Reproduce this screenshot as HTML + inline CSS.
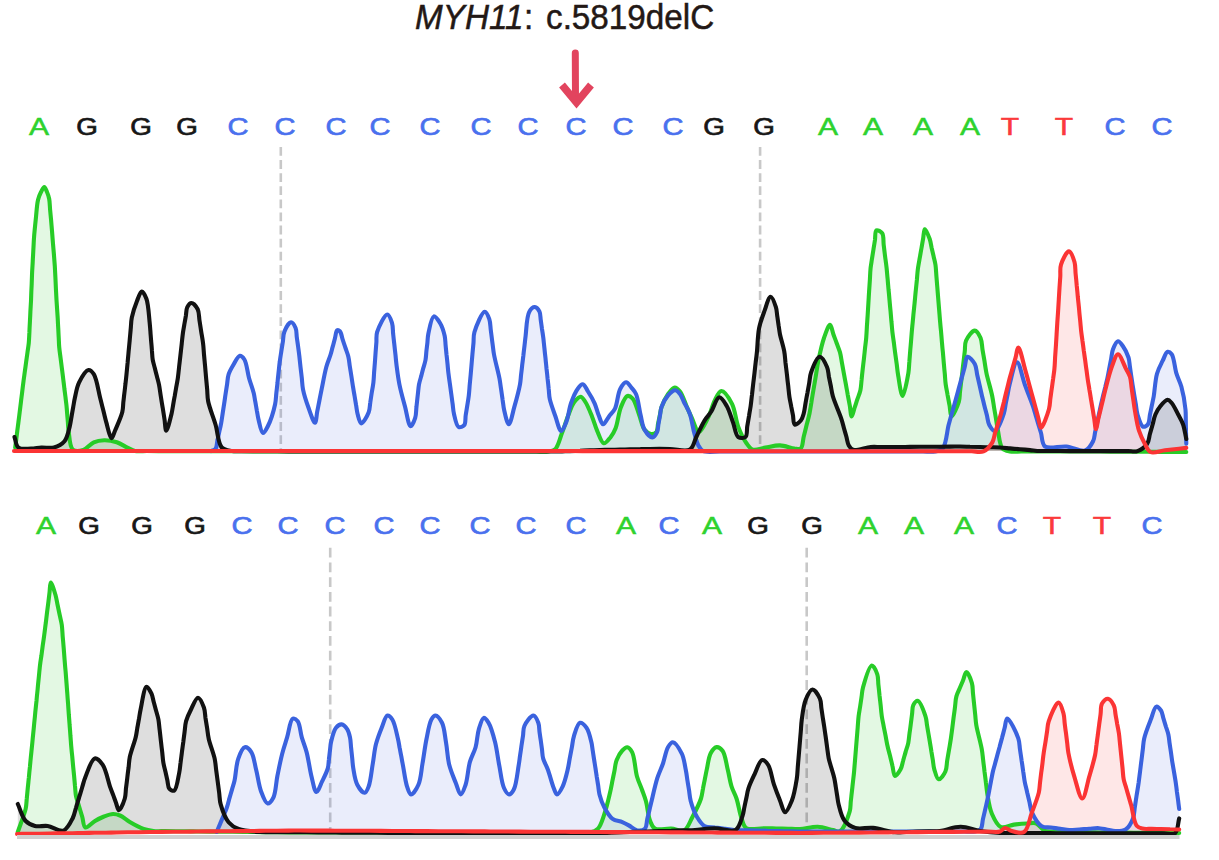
<!DOCTYPE html>
<html><head><meta charset="utf-8">
<style>
html,body{margin:0;padding:0;background:#fff;}
body{width:1219px;height:860px;position:relative;overflow:hidden;font-family:"Liberation Sans",sans-serif;}
svg{position:absolute;left:0;top:0;}
.t{position:absolute;top:-3px;font-size:35px;line-height:40px;color:#231815;white-space:nowrap;transform-origin:0 0;transform:scaleX(0.95);-webkit-text-stroke:0.5px #231815;}
.t i{font-style:italic;}
.b{position:absolute;width:40px;text-align:center;font-size:23.5px;font-weight:normal;line-height:30px;transform:scaleX(1.28);-webkit-text-stroke:0.5px currentColor;}
.b.G{transform:scaleX(1.18);-webkit-text-stroke:0.7px currentColor;}
.b.C{transform:scaleX(1.24);-webkit-text-stroke:0.6px currentColor;}
</style></head><body>
<svg width="1219" height="860" viewBox="0 0 1219 860">
<path d="M575.3,53 L575.5,100" stroke="#e2445e" stroke-width="7" stroke-linecap="round" fill="none"/>
<path d="M562,85 L576.5,102.5 L591,85" stroke="#e2445e" stroke-width="7.5" stroke-linecap="butt" stroke-linejoin="miter" stroke-miterlimit="10" fill="none"/>
<line x1="280.8" y1="147" x2="280.8" y2="451" stroke="#c8c8c8" stroke-width="2.6" stroke-dasharray="8.8 4.3"/>
<line x1="760.1" y1="147" x2="760.1" y2="451" stroke="#c8c8c8" stroke-width="2.6" stroke-dasharray="8.8 4.3"/>
<line x1="330.2" y1="547.8" x2="330.2" y2="834" stroke="#c8c8c8" stroke-width="2.6" stroke-dasharray="9.8 4.9"/>
<line x1="806.7" y1="547.8" x2="806.7" y2="834" stroke="#c8c8c8" stroke-width="2.6" stroke-dasharray="9.8 4.9"/>
<path d="M15.2,447.5 C15.6,444.7 15.9,441.9 16.3,439.1 C16.6,436.3 17.0,433.6 17.3,430.8 C17.7,428.0 18.0,425.3 18.4,422.4 C18.8,419.1 19.3,415.4 19.7,411.9 C20.1,408.4 20.6,404.9 21.0,401.4 C21.4,398.0 21.9,394.5 22.3,391.0 C22.7,387.5 23.2,383.9 23.6,380.5 C24.0,377.3 24.5,374.2 24.9,371.1 C25.3,367.9 25.8,364.8 26.2,361.6 C26.6,358.5 27.1,355.4 27.5,352.2 C27.9,349.1 28.5,346.0 28.8,342.8 C29.1,339.4 29.2,335.8 29.4,332.4 C29.5,328.9 29.7,325.4 29.9,321.9 C30.1,318.4 30.3,314.9 30.4,311.4 C30.6,308.0 30.8,304.3 31.0,301.0 C31.1,298.0 31.2,295.2 31.3,292.3 C31.4,289.4 31.6,286.6 31.7,283.7 C31.8,280.8 31.9,277.9 32.0,275.0 C32.1,272.0 32.3,268.8 32.5,265.7 C32.7,262.6 32.8,259.5 33.0,256.4 C33.2,253.3 33.3,250.2 33.5,247.1 C33.7,244.0 33.7,241.5 34.0,237.8 C34.4,232.2 35.3,223.6 36.0,217.0 C36.6,211.0 36.9,204.6 38.0,200.0 C38.8,196.8 39.8,194.3 41.0,192.0 C42.0,190.1 43.3,187.0 44.3,187.0 C45.3,187.0 46.2,190.2 47.0,192.0 C47.9,194.1 48.7,196.4 49.2,199.0 C49.8,202.2 49.8,206.1 50.1,209.7 C50.4,213.2 50.8,216.8 51.1,220.3 C51.4,223.9 51.7,227.4 52.0,231.0 C52.3,234.8 52.6,238.8 52.9,242.7 C53.2,246.6 53.6,250.4 53.9,254.3 C54.2,258.2 54.5,262.1 54.8,266.0 C55.0,269.8 55.2,273.6 55.4,277.3 C55.6,281.1 55.7,284.9 55.9,288.7 C56.1,292.4 56.3,295.8 56.5,300.0 C56.8,305.3 57.4,312.9 57.7,318.0 C57.9,321.7 58.0,324.4 58.2,327.7 C58.4,330.9 58.5,334.1 58.7,337.3 C58.9,340.6 58.9,343.7 59.2,347.0 C59.5,350.6 60.1,354.4 60.6,358.2 C61.1,361.9 61.5,365.6 62.0,369.3 C62.5,373.1 63.0,377.0 63.4,380.5 C63.8,383.5 64.1,386.1 64.4,388.9 C64.8,391.7 65.1,394.5 65.5,397.3 C65.8,400.1 66.2,402.9 66.5,405.7 C66.8,408.5 67.0,411.3 67.2,414.1 C67.4,416.9 67.7,419.6 67.9,422.4 C68.1,425.2 68.1,427.5 68.6,430.8 C69.4,435.8 69.5,446.8 72.8,449.6 C75.3,451.6 80.0,451.0 83.3,450.0 C87.0,448.9 90.1,443.9 93.8,442.3 C97.1,440.8 100.6,440.3 104.2,440.2 C108.2,440.1 112.9,441.0 116.8,442.3 C120.6,443.5 124.1,446.0 127.3,447.5 C130.1,448.8 132.1,450.4 135.0,451.0 C138.4,451.8 142.9,451.0 146.8,451.0 C150.7,451.0 154.6,451.1 158.6,451.1 C162.5,451.1 166.4,451.1 170.4,451.1 C174.3,451.1 178.2,451.1 182.1,451.1 C186.1,451.2 190.0,451.2 193.9,451.2 C197.9,451.2 201.8,451.2 205.7,451.2 C209.6,451.2 213.6,451.2 217.5,451.2 C221.4,451.3 225.4,451.3 229.3,451.3 C233.2,451.3 237.1,451.3 241.1,451.3 C245.0,451.3 248.9,451.3 252.9,451.4 C256.8,451.4 260.7,451.4 264.6,451.4 C268.6,451.4 272.5,451.4 276.4,451.4 C280.4,451.4 284.3,451.5 288.2,451.5 C292.1,451.5 296.1,451.5 300.0,451.5 C303.9,451.5 307.9,451.5 311.8,451.5 C315.7,451.5 319.7,451.5 323.6,451.5 C327.6,451.5 331.5,451.5 335.4,451.5 C339.4,451.5 343.3,451.5 347.2,451.5 C351.2,451.5 355.1,451.5 359.0,451.5 C363.0,451.5 366.9,451.5 370.9,451.5 C374.8,451.5 378.7,451.5 382.7,451.5 C386.6,451.5 390.5,451.5 394.5,451.5 C398.4,451.5 402.3,451.5 406.3,451.5 C410.2,451.5 414.2,451.5 418.1,451.5 C422.0,451.5 426.0,451.5 429.9,451.5 C433.8,451.5 437.8,451.5 441.7,451.5 C445.7,451.5 449.6,451.5 453.5,451.5 C457.5,451.5 461.4,451.5 465.3,451.5 C469.3,451.5 473.2,451.5 477.1,451.5 C481.1,451.5 485.0,451.5 489.0,451.5 C492.9,451.5 496.8,451.5 500.8,451.5 C504.7,451.5 508.6,451.5 512.6,451.5 C516.5,451.5 520.4,451.5 524.4,451.5 C528.3,451.5 532.3,451.5 536.2,451.5 C540.1,451.5 544.6,452.0 548.0,451.5 C550.7,451.1 553.2,451.1 555.2,449.2 C558.2,446.4 559.7,439.0 561.8,433.5 C564.1,427.6 566.1,420.6 568.4,415.0 C570.3,410.2 571.8,405.2 574.3,402.0 C576.2,399.6 578.9,396.5 580.8,396.7 C582.5,396.9 583.9,399.7 585.4,402.0 C587.7,405.5 590.0,411.5 592.0,416.4 C593.9,421.2 595.2,426.3 597.2,430.9 C599.1,435.3 601.3,442.9 603.8,443.3 C605.8,443.7 608.5,439.8 610.4,437.4 C612.5,434.8 614.1,432.0 615.6,428.2 C617.8,422.7 618.5,413.0 620.9,407.2 C622.7,402.7 625.0,396.7 627.4,396.0 C629.0,395.5 631.1,397.0 632.7,398.7 C635.4,401.7 637.2,409.7 639.2,415.0 C641.1,420.0 642.0,426.4 644.5,429.6 C646.3,431.9 648.9,433.7 651.0,434.0 C652.8,434.2 655.1,433.5 656.3,432.2 C657.8,430.5 657.5,426.6 658.0,423.9 C658.6,421.1 659.2,418.3 659.8,415.5 C660.3,412.8 660.5,410.2 661.5,407.2 C662.9,403.2 665.6,397.5 668.1,394.0 C670.1,391.3 672.6,387.7 674.7,387.6 C676.5,387.5 678.4,389.5 680.0,391.5 C682.5,394.6 684.5,401.4 686.5,406.0 C688.3,410.1 689.8,413.6 691.7,417.7 C693.8,422.2 696.4,431.4 698.3,432.0 C699.1,432.3 699.7,431.6 700.5,430.8 C702.6,428.7 706.4,421.2 708.8,416.1 C711.2,410.9 712.6,404.5 715.0,400.0 C716.9,396.4 718.9,391.1 721.4,391.0 C724.4,390.9 729.2,398.4 731.9,403.6 C735.2,409.8 735.6,419.7 738.2,426.6 C740.5,432.7 743.6,439.2 746.5,443.3 C748.5,446.1 750.1,448.7 752.8,449.6 C756.1,450.7 761.0,448.2 765.4,447.5 C770.1,446.8 775.1,445.2 780.0,445.4 C784.9,445.6 790.8,448.2 794.7,448.6 C797.2,448.8 799.3,449.6 800.8,448.4 C802.9,446.7 802.7,440.6 803.7,436.8 C804.7,432.9 805.6,429.0 806.6,425.1 C807.6,421.3 808.7,417.3 809.5,413.5 C810.2,409.9 810.7,406.5 811.3,403.0 C811.8,399.5 812.4,396.0 813.0,392.5 C813.6,389.0 814.2,385.5 814.8,382.0 C815.4,378.5 816.0,375.0 816.5,371.5 C817.1,368.0 817.4,365.2 818.3,361.0 C819.6,354.8 821.7,344.5 824.0,338.0 C825.8,332.9 828.4,324.7 830.0,324.8 C831.4,324.9 832.2,330.9 833.3,334.0 C834.4,337.1 835.6,340.1 836.7,343.2 C837.8,346.3 839.1,349.2 840.0,352.4 C840.9,355.8 841.3,359.5 842.0,363.1 C842.6,366.6 843.3,370.2 843.9,373.7 C844.6,377.3 845.2,380.8 845.9,384.4 C846.5,388.0 847.2,391.5 847.8,395.1 C848.5,398.6 849.1,402.2 849.8,405.7 C850.4,409.3 850.8,416.3 851.7,416.4 C852.5,416.5 853.6,410.6 854.6,407.7 C855.6,404.8 856.5,401.8 857.5,398.9 C858.5,396.0 859.7,393.3 860.4,390.2 C861.1,386.9 861.2,383.2 861.6,379.8 C861.9,376.3 862.3,372.8 862.7,369.3 C863.1,365.8 863.5,362.4 863.9,358.9 C864.3,355.4 864.7,351.9 865.0,348.4 C865.4,345.0 865.9,341.6 866.2,338.0 C866.5,334.2 866.7,330.2 866.9,326.3 C867.2,322.4 867.4,318.6 867.7,314.7 C867.9,310.8 868.2,306.9 868.4,303.0 C868.6,299.1 868.9,295.2 869.1,291.3 C869.4,287.4 869.6,283.6 869.9,279.7 C870.1,275.8 870.2,271.7 870.6,268.0 C871.0,264.7 871.6,261.7 872.0,258.6 C872.5,255.4 873.0,252.3 873.5,249.2 C874.0,246.0 874.5,242.9 875.0,239.7 C875.4,236.6 874.9,231.1 876.4,230.3 C877.6,229.7 880.9,231.5 882.2,233.3 C883.9,235.7 883.2,241.0 883.7,244.9 C884.2,248.7 884.6,252.6 885.1,256.4 C885.6,260.3 886.2,264.2 886.6,268.0 C887.0,271.6 887.2,275.1 887.6,278.7 C887.9,282.2 888.2,285.8 888.5,289.3 C888.9,292.9 889.2,296.4 889.5,300.0 C889.8,303.6 890.1,307.1 890.5,310.7 C890.8,314.2 891.1,317.8 891.4,321.3 C891.8,324.9 892.0,328.4 892.4,332.0 C892.8,335.6 893.4,339.3 893.9,342.9 C894.3,346.6 894.8,350.2 895.3,353.9 C895.8,357.5 896.3,361.1 896.8,364.8 C897.2,368.4 897.5,371.5 898.2,375.7 C899.2,381.4 901.0,396.0 902.6,396.0 C904.3,396.0 907.3,379.2 908.4,372.8 C909.1,368.3 909.0,365.0 909.4,361.2 C909.7,357.3 910.0,353.4 910.3,349.6 C910.7,345.7 911.0,341.8 911.3,337.9 C911.6,334.1 911.9,330.2 912.3,326.3 C912.7,322.4 913.1,318.5 913.4,314.6 C913.8,310.8 914.2,306.9 914.6,303.0 C915.0,299.1 915.3,295.2 915.7,291.3 C916.1,287.4 916.5,283.5 916.9,279.7 C917.2,275.8 917.5,271.7 918.0,268.0 C918.5,264.6 919.1,261.5 919.7,258.2 C920.3,255.0 920.8,251.8 921.4,248.5 C922.0,245.2 922.5,242.0 923.1,238.8 C923.7,235.5 923.8,229.1 924.8,229.0 C925.9,228.8 928.5,235.7 929.7,239.0 C930.7,241.9 931.0,244.8 931.6,247.7 C932.3,250.6 932.9,253.4 933.6,256.3 C934.2,259.2 935.0,261.9 935.5,265.0 C936.0,268.5 936.1,272.4 936.4,276.1 C936.7,279.8 937.0,283.5 937.3,287.2 C937.6,290.9 937.9,294.6 938.2,298.3 C938.5,302.0 938.8,305.7 939.1,309.4 C939.4,313.1 939.7,316.8 940.0,320.5 C940.3,324.1 940.6,327.6 941.0,331.1 C941.3,334.7 941.6,338.2 941.9,341.8 C942.2,345.4 942.5,348.9 942.9,352.4 C943.2,356.0 943.5,359.6 943.8,363.1 C944.1,366.6 944.4,370.2 944.8,373.8 C945.1,377.3 945.2,380.9 945.7,384.4 C946.2,388.0 947.0,391.5 947.6,395.1 C948.3,398.6 948.9,402.2 949.6,405.7 C950.2,409.3 950.3,416.2 951.5,416.4 C953.0,416.6 957.4,406.4 958.8,401.9 C959.9,398.3 959.6,395.1 960.0,391.7 C960.4,388.3 960.8,384.9 961.2,381.5 C961.6,378.1 962.0,374.7 962.4,371.4 C962.8,368.0 963.2,364.6 963.6,361.2 C964.0,357.8 964.4,354.4 964.8,351.0 C965.2,347.6 964.6,344.0 966.0,340.8 C967.6,337.1 972.2,330.5 974.8,330.6 C977.0,330.7 979.3,335.1 980.6,338.0 C982.0,341.3 981.9,345.7 982.5,349.6 C983.2,353.5 983.8,357.3 984.5,361.2 C985.1,365.1 985.5,368.3 986.4,372.8 C987.7,379.2 990.9,389.6 992.2,396.0 C993.1,400.5 993.5,403.8 994.1,407.7 C994.8,411.6 995.4,415.4 996.1,419.3 C996.7,423.2 997.1,426.7 998.0,431.0 C999.1,436.2 999.6,445.1 1002.4,448.4 C1004.3,450.6 1007.2,450.9 1010.0,451.5 C1013.3,452.2 1017.5,451.5 1021.2,451.5 C1025.0,451.5 1028.8,451.5 1032.5,451.5 C1036.2,451.5 1040.0,451.5 1043.8,451.5 C1047.5,451.5 1051.2,451.5 1055.0,451.5 C1058.8,451.5 1062.5,451.5 1066.2,451.5 C1070.0,451.5 1073.8,451.5 1077.5,451.5 C1081.2,451.5 1085.0,451.5 1088.8,451.5 C1092.5,451.5 1096.3,451.5 1100.0,451.5 C1103.6,451.5 1107.2,451.5 1110.8,451.6 C1114.4,451.6 1118.0,451.6 1121.6,451.6 C1125.2,451.6 1128.8,451.7 1132.4,451.7 C1136.0,451.7 1139.6,451.7 1143.2,451.8 C1146.7,451.8 1150.3,451.8 1153.9,451.8 C1157.5,451.8 1161.1,451.9 1164.7,451.9 C1168.3,451.9 1171.9,451.9 1175.5,451.9 C1179.1,452.0 1182.7,452.0 1186.3,452.0 L1186.3,451.0 L15.2,451.0 Z" fill="rgba(40,200,40,0.13)" stroke="none"/>
<path d="M211.3,451.0 C212.7,450.3 214.6,450.1 215.6,448.8 C217.0,447.0 216.8,443.0 217.5,440.1 C218.1,437.2 218.7,434.4 219.3,431.5 C220.0,428.6 220.7,425.8 221.2,422.8 C221.8,419.7 222.2,416.3 222.7,413.1 C223.2,409.9 223.7,406.7 224.2,403.4 C224.7,400.2 225.1,397.0 225.6,393.8 C226.1,390.5 226.6,387.3 227.1,384.1 C227.6,380.9 227.6,377.5 228.6,374.4 C229.6,371.2 231.5,368.0 233.3,365.0 C235.2,361.8 237.7,356.1 239.8,355.8 C241.3,355.6 243.1,357.5 244.4,359.5 C246.7,363.1 247.4,372.2 249.0,378.0 C250.5,383.3 252.6,388.7 253.7,393.0 C254.5,396.3 254.7,398.8 255.3,401.7 C255.8,404.6 256.3,407.4 256.8,410.3 C257.4,413.2 257.6,415.8 258.4,419.0 C259.4,423.1 261.1,432.7 263.0,433.0 C264.4,433.2 266.2,429.5 267.7,426.5 C270.3,421.4 273.8,410.3 275.1,404.2 C276.0,400.0 275.9,397.1 276.3,393.5 C276.7,389.9 277.1,386.4 277.5,382.8 C277.8,379.2 278.2,375.7 278.6,372.1 C279.0,368.5 279.3,364.9 279.8,361.4 C280.2,358.0 280.8,354.8 281.3,351.5 C281.8,348.2 282.4,344.8 282.9,341.5 C283.4,338.2 283.1,334.7 284.4,331.6 C285.7,328.3 289.0,322.4 291.0,322.3 C292.6,322.2 294.6,325.7 295.6,328.0 C296.7,330.6 296.4,334.2 296.8,337.3 C297.2,340.4 297.7,343.4 298.1,346.5 C298.5,349.6 298.9,352.6 299.3,355.8 C299.7,359.3 300.1,363.2 300.5,367.0 C300.9,370.7 301.4,374.4 301.8,378.1 C302.2,381.9 302.2,385.1 303.0,389.3 C304.1,394.8 306.5,402.2 308.6,408.0 C310.5,413.3 313.6,423.0 315.0,422.8 C316.2,422.7 316.5,415.4 317.2,411.6 C317.9,407.9 318.7,404.2 319.4,400.5 C320.1,396.7 320.7,393.7 321.6,389.3 C322.9,383.1 324.6,373.3 326.3,367.0 C327.6,362.2 329.5,358.2 330.6,354.5 C331.5,351.5 332.0,349.1 332.8,346.4 C333.5,343.7 334.2,341.1 334.9,338.4 C335.7,335.7 335.9,331.0 337.1,330.3 C337.8,329.9 339.1,330.5 339.9,331.3 C341.3,332.7 341.8,336.9 342.7,339.7 C343.6,342.5 344.6,345.2 345.5,348.0 C346.4,350.8 347.6,353.5 348.3,356.4 C349.1,359.5 349.3,363.0 349.8,366.3 C350.3,369.6 350.9,373.0 351.4,376.3 C351.9,379.6 352.4,382.9 352.9,386.2 C353.4,389.3 353.9,392.4 354.5,395.5 C355.0,398.6 355.5,401.6 356.0,404.7 C356.6,407.8 356.8,410.9 357.6,414.0 C358.5,417.2 359.6,423.2 361.3,423.4 C363.2,423.6 367.2,416.0 368.7,412.2 C370.0,408.9 369.7,405.6 370.3,402.3 C370.8,399.0 371.3,395.6 371.8,392.3 C372.4,389.0 373.0,385.7 373.4,382.4 C373.8,379.1 373.9,375.7 374.1,372.4 C374.4,369.0 374.6,365.7 374.9,362.3 C375.1,359.0 375.4,355.6 375.6,352.3 C375.9,348.9 376.1,345.6 376.4,342.2 C376.6,338.9 376.0,335.9 377.1,332.2 C378.7,327.0 384.6,314.5 387.3,314.5 C389.2,314.5 391.0,319.8 392.0,322.9 C393.0,326.2 392.8,330.0 393.1,333.6 C393.5,337.2 393.9,340.7 394.3,344.3 C394.7,347.9 395.1,351.4 395.5,355.0 C395.8,358.6 396.1,361.6 396.6,365.7 C397.3,371.1 398.1,377.9 399.4,384.3 C400.8,391.4 403.1,399.4 405.0,406.6 C406.8,413.4 408.5,426.0 410.6,426.2 C412.0,426.4 414.2,420.9 415.2,417.8 C416.3,414.4 416.0,410.4 416.5,406.6 C416.9,402.9 417.3,399.2 417.7,395.5 C418.2,391.7 418.4,387.7 419.0,384.3 C419.6,381.4 420.4,378.9 421.2,376.2 C421.9,373.5 422.6,370.8 423.3,368.1 C424.1,365.4 425.0,362.8 425.5,360.0 C426.0,357.2 426.1,354.2 426.4,351.3 C426.7,348.4 427.1,345.6 427.4,342.7 C427.7,339.8 427.6,337.4 428.3,334.0 C429.3,329.1 431.3,317.0 433.8,316.4 C435.5,316.0 438.3,320.2 440.0,323.0 C442.1,326.4 443.8,332.0 444.7,336.0 C445.4,339.3 445.3,342.2 445.6,345.2 C445.9,348.3 446.2,351.4 446.5,354.5 C446.9,357.6 447.2,360.7 447.5,363.8 C447.8,366.8 448.0,369.8 448.4,373.0 C448.8,376.3 449.3,379.8 449.8,383.2 C450.3,386.7 450.7,390.1 451.2,393.5 C451.7,396.9 452.1,400.3 452.6,403.8 C453.1,407.2 453.1,410.4 454.0,414.0 C455.0,418.1 456.3,425.8 458.6,427.0 C460.1,427.8 463.0,426.6 464.2,425.2 C465.8,423.3 465.2,418.6 465.7,415.3 C466.2,412.0 466.8,408.7 467.3,405.4 C467.8,402.1 468.4,398.9 468.8,395.5 C469.2,392.0 469.4,388.5 469.7,384.9 C470.0,381.4 470.4,377.9 470.7,374.4 C471.0,370.9 471.3,367.4 471.6,363.9 C471.9,360.3 472.2,356.8 472.5,353.3 C472.8,349.8 473.2,346.3 473.5,342.8 C473.8,339.2 473.3,336.2 474.4,332.2 C476.1,326.4 481.9,311.8 484.7,311.7 C486.5,311.6 488.3,316.3 489.3,319.2 C490.5,322.6 490.3,327.0 490.9,331.0 C491.4,334.9 491.9,338.8 492.4,342.7 C493.0,346.7 493.2,349.9 494.0,354.5 C495.2,361.2 498.3,372.3 499.5,378.7 C500.3,382.9 500.5,385.7 501.1,389.2 C501.6,392.7 502.1,396.3 502.6,399.8 C503.2,403.3 503.3,406.6 504.2,410.3 C505.2,414.7 507.2,424.3 508.8,424.3 C510.6,424.3 512.6,412.9 514.4,406.6 C516.4,399.6 518.9,390.2 520.0,384.3 C520.7,380.4 520.7,377.9 521.1,374.6 C521.5,371.4 521.9,368.2 522.2,365.0 C522.6,361.8 523.0,358.5 523.4,355.3 C523.7,352.1 524.1,348.9 524.5,345.7 C524.9,342.4 525.1,339.9 525.6,336.0 C526.4,329.7 526.6,316.4 529.3,311.7 C530.7,309.1 533.2,306.9 534.9,307.0 C536.5,307.1 538.5,309.7 539.5,311.7 C540.6,314.0 540.3,317.5 540.8,320.4 C541.2,323.3 541.6,326.2 542.0,329.1 C542.5,332.0 542.9,334.8 543.3,337.8 C543.7,341.1 544.0,344.6 544.4,348.0 C544.7,351.4 545.1,354.9 545.5,358.3 C545.8,361.7 546.2,365.1 546.5,368.5 C546.9,371.9 547.3,375.3 547.6,378.7 C548.0,382.1 548.4,385.6 548.7,389.0 C549.1,392.4 549.0,395.4 549.8,399.2 C550.9,404.2 553.4,410.6 555.3,416.0 C557.2,421.2 559.1,430.9 561.2,431.0 C562.9,431.1 564.9,425.4 566.4,421.7 C568.4,416.7 569.0,409.0 571.0,403.3 C572.8,398.1 575.1,392.2 577.6,388.9 C579.2,386.7 581.2,384.1 582.8,384.3 C584.7,384.5 586.2,388.7 588.0,391.5 C590.2,394.9 592.8,399.3 594.6,403.3 C596.3,407.1 597.1,411.4 598.6,415.0 C600.0,418.3 601.3,424.1 603.1,424.3 C604.8,424.5 607.0,419.0 609.0,416.4 C611.0,413.8 613.3,412.0 615.0,408.6 C617.4,403.7 617.7,393.5 620.2,388.9 C621.8,385.9 624.2,382.4 626.1,382.3 C627.9,382.2 629.8,385.7 631.4,387.6 C633.1,389.6 634.7,391.1 636.0,394.0 C638.2,398.8 639.1,408.7 640.6,415.0 C641.9,420.3 642.2,425.7 644.5,429.6 C646.4,432.9 650.2,437.5 652.4,437.4 C654.2,437.3 656.0,434.3 657.0,432.2 C658.1,429.9 658.0,426.6 658.5,423.9 C659.0,421.1 659.5,418.3 660.0,415.5 C660.5,412.8 660.5,410.1 661.5,407.2 C662.8,403.5 665.5,398.3 668.1,395.4 C670.2,393.0 673.2,390.1 675.3,390.2 C677.1,390.2 678.7,392.3 680.0,394.0 C681.6,396.0 682.5,399.1 683.9,402.0 C685.7,405.6 688.2,409.3 689.8,413.8 C691.8,419.4 692.8,427.8 694.4,433.5 C695.7,438.0 696.7,442.3 698.4,445.4 C699.7,447.8 700.6,449.8 703.0,451.0 C706.7,452.8 714.8,451.4 720.0,451.5 C724.3,451.6 728.0,451.5 731.9,451.5 C735.9,451.5 739.9,451.5 743.9,451.5 C747.9,451.5 751.9,451.5 755.8,451.5 C759.8,451.5 763.8,451.5 767.8,451.5 C771.8,451.5 775.7,451.5 779.7,451.5 C783.7,451.5 787.7,451.5 791.7,451.5 C795.6,451.5 799.6,451.5 803.6,451.5 C807.6,451.5 811.6,451.5 815.6,451.5 C819.5,451.5 823.5,451.5 827.5,451.5 C831.5,451.5 835.5,451.5 839.4,451.5 C843.4,451.5 847.4,451.5 851.4,451.5 C855.4,451.5 859.4,451.5 863.3,451.5 C867.3,451.5 871.3,451.5 875.3,451.5 C879.3,451.5 883.2,451.5 887.2,451.5 C891.2,451.5 895.2,451.5 899.2,451.5 C903.1,451.5 907.1,451.5 911.1,451.5 C915.1,451.5 919.1,451.5 923.1,451.5 C927.0,451.5 931.5,452.2 935.0,451.5 C937.9,450.9 940.7,450.8 942.8,448.4 C946.3,444.4 947.0,430.9 948.6,425.0 C949.6,421.4 950.2,419.2 951.0,416.3 C951.8,413.4 952.7,410.6 953.5,407.7 C954.3,404.8 955.1,402.0 955.9,399.0 C956.8,395.7 957.8,392.0 958.8,388.4 C959.8,384.9 960.7,381.4 961.7,377.9 C962.7,374.4 963.6,370.9 964.6,367.4 C965.6,363.8 965.7,357.3 967.5,356.8 C969.2,356.3 973.2,361.1 974.8,364.0 C976.5,367.0 976.4,371.1 977.2,374.7 C978.0,378.2 978.8,381.8 979.6,385.3 C980.4,388.9 981.2,392.5 982.0,396.0 C982.8,399.3 983.6,402.4 984.4,405.7 C985.2,408.9 986.1,412.1 986.9,415.3 C987.7,418.6 987.8,422.3 989.3,425.0 C990.6,427.4 993.1,431.3 995.0,431.0 C997.9,430.6 1002.1,418.6 1003.8,413.5 C1005.0,409.9 1005.1,407.0 1005.7,403.8 C1006.4,400.6 1007.0,397.3 1007.7,394.1 C1008.3,390.9 1008.6,388.3 1009.6,384.4 C1011.2,378.5 1014.5,362.3 1017.0,362.3 C1019.6,362.3 1022.3,377.6 1025.0,385.0 C1027.6,392.3 1031.1,400.8 1033.0,406.4 C1034.2,410.0 1034.8,412.3 1035.7,415.3 C1036.6,418.2 1037.4,421.2 1038.3,424.1 C1039.2,427.1 1040.0,429.7 1041.0,433.0 C1042.2,437.0 1041.7,444.0 1045.0,446.5 C1049.1,449.6 1059.6,445.8 1066.5,446.5 C1073.0,447.2 1080.6,452.1 1085.2,450.5 C1088.9,449.2 1091.5,444.4 1093.2,441.0 C1094.6,438.0 1094.5,434.8 1095.2,431.7 C1095.9,428.6 1096.5,425.5 1097.2,422.4 C1097.9,419.2 1098.5,416.1 1099.2,413.0 C1099.9,409.9 1100.5,406.7 1101.2,403.7 C1101.9,400.8 1102.6,398.1 1103.2,395.3 C1103.9,392.5 1104.6,389.8 1105.3,387.0 C1105.9,384.2 1106.7,381.5 1107.3,378.6 C1108.0,375.5 1108.6,372.1 1109.2,368.8 C1109.8,365.6 1110.5,362.3 1111.1,359.1 C1111.7,355.8 1111.8,352.3 1113.0,349.3 C1114.1,346.4 1116.2,341.4 1118.0,341.2 C1119.5,341.0 1121.3,343.9 1122.8,346.0 C1124.9,348.9 1127.3,353.8 1128.5,357.5 C1129.5,360.6 1129.4,363.6 1129.9,366.7 C1130.3,369.7 1130.8,372.8 1131.2,375.8 C1131.7,378.9 1132.1,381.9 1132.6,385.0 C1133.1,388.2 1133.7,391.6 1134.2,394.8 C1134.8,398.1 1135.3,401.4 1135.9,404.7 C1136.4,407.9 1136.5,411.1 1137.5,414.5 C1138.7,418.4 1140.9,425.9 1143.2,426.7 C1144.6,427.2 1146.9,425.7 1148.0,424.2 C1149.5,422.2 1149.3,418.0 1149.9,415.0 C1150.5,411.9 1151.2,408.8 1151.8,405.7 C1152.4,402.7 1153.0,400.3 1153.7,396.5 C1154.7,390.6 1155.2,380.1 1157.0,373.7 C1158.4,368.6 1160.8,364.6 1162.7,360.7 C1164.3,357.4 1165.7,352.3 1167.6,351.8 C1168.9,351.5 1170.5,352.6 1171.7,354.2 C1174.1,357.4 1174.7,367.9 1176.5,373.7 C1178.0,378.5 1180.0,381.8 1181.4,386.8 C1183.2,393.3 1184.9,403.3 1185.5,409.6 C1185.9,414.0 1185.7,417.2 1185.8,421.0 C1185.9,424.8 1185.9,428.6 1186.0,432.4 C1186.1,436.2 1186.2,440.0 1186.3,443.8 L1186.3,451.0 L211.3,451.0 Z" fill="rgba(60,90,220,0.11)" stroke="none"/>
<path d="M14.5,437.0 C15.8,440.5 15.8,445.5 18.4,447.5 C21.1,449.6 27.0,448.6 31.0,448.6 C34.6,448.6 37.8,447.7 41.4,447.5 C45.4,447.3 50.1,448.6 54.0,447.5 C57.8,446.5 61.9,444.4 64.5,441.3 C67.4,437.8 68.5,431.0 69.7,426.6 C70.6,423.1 70.9,420.1 71.5,416.8 C72.1,413.6 72.6,410.3 73.2,407.1 C73.8,403.8 74.2,400.9 75.0,397.3 C76.0,392.9 76.8,387.1 79.0,382.6 C81.3,378.0 85.6,370.4 88.5,370.0 C90.4,369.8 92.3,371.9 93.8,374.2 C96.7,378.6 98.5,391.5 100.0,397.3 C100.9,400.8 101.4,402.9 102.1,405.7 C102.8,408.5 103.5,411.2 104.2,414.0 C104.9,416.8 105.4,419.2 106.3,422.4 C107.6,426.8 109.9,438.0 111.6,438.1 C112.8,438.2 113.7,433.8 115.0,430.8 C117.0,426.0 121.0,417.3 122.3,412.0 C123.2,408.4 123.0,405.7 123.3,402.6 C123.7,399.4 124.0,396.2 124.4,393.1 C124.8,390.0 125.1,386.8 125.5,383.6 C125.8,380.5 126.2,377.5 126.5,374.2 C126.9,370.6 127.2,366.7 127.6,362.9 C127.9,359.1 128.3,355.4 128.6,351.6 C129.0,347.8 129.3,344.1 129.7,340.3 C130.0,336.5 130.4,332.8 130.7,329.0 C131.1,325.2 131.0,321.8 131.8,317.7 C132.8,312.6 135.1,305.7 137.0,301.0 C138.5,297.3 140.1,291.6 141.8,291.5 C143.3,291.4 145.2,295.5 146.4,298.8 C148.4,304.2 148.9,315.9 149.6,321.9 C150.0,325.7 150.1,328.2 150.4,331.3 C150.6,334.5 150.9,337.6 151.1,340.8 C151.4,343.9 151.7,347.0 151.9,350.2 C152.2,353.3 152.2,356.6 152.7,359.6 C153.2,362.5 154.1,365.2 154.8,368.0 C155.5,370.8 156.2,373.5 156.9,376.3 C157.6,379.1 158.4,381.7 159.0,384.7 C159.7,388.2 160.2,392.4 160.8,396.2 C161.4,400.1 162.0,403.9 162.7,407.8 C163.3,411.6 163.9,415.4 164.5,419.3 C165.1,423.1 165.3,430.7 166.3,430.8 C167.5,430.9 170.3,418.7 171.5,414.0 C172.3,410.6 172.6,408.1 173.1,405.1 C173.6,402.1 174.1,399.2 174.7,396.2 C175.2,393.2 175.7,390.3 176.2,387.3 C176.8,384.3 177.3,381.6 177.8,378.4 C178.3,374.8 178.7,370.7 179.1,366.9 C179.5,363.1 180.0,359.2 180.4,355.4 C180.8,351.6 181.3,347.7 181.7,343.9 C182.1,340.1 182.5,335.9 183.0,332.4 C183.4,329.4 184.0,326.8 184.4,324.0 C184.9,321.2 185.4,318.4 185.9,315.6 C186.3,312.8 186.2,309.4 187.3,307.2 C188.2,305.4 189.9,303.0 191.4,303.0 C193.3,303.0 196.3,306.6 197.7,309.3 C199.2,312.3 198.9,316.7 199.5,320.5 C200.1,324.2 200.6,327.9 201.2,331.6 C201.8,335.4 202.5,339.0 203.0,342.8 C203.5,346.7 203.7,350.6 204.0,354.5 C204.4,358.5 204.7,362.4 205.1,366.3 C205.4,370.2 205.8,374.1 206.1,378.0 C206.5,381.9 206.8,385.8 207.2,389.8 C207.5,393.7 207.3,397.0 208.2,401.5 C209.5,407.9 213.2,416.8 215.5,424.5 C217.8,432.1 217.9,443.4 221.8,447.5 C224.4,450.3 228.5,450.4 232.0,451.0 C235.6,451.6 239.6,451.1 243.3,451.1 C247.1,451.1 250.9,451.1 254.7,451.2 C258.4,451.2 262.2,451.2 266.0,451.2 C269.8,451.3 273.6,451.3 277.3,451.3 C281.1,451.4 284.9,451.4 288.7,451.4 C292.4,451.4 296.2,451.5 300.0,451.5 C303.7,451.5 307.4,451.5 311.1,451.5 C314.8,451.5 318.5,451.5 322.2,451.5 C325.9,451.5 329.6,451.5 333.3,451.5 C337.0,451.5 340.7,451.5 344.4,451.5 C348.1,451.5 351.9,451.5 355.6,451.5 C359.3,451.5 363.0,451.5 366.7,451.5 C370.4,451.5 374.1,451.5 377.8,451.5 C381.5,451.5 385.2,451.5 388.9,451.5 C392.6,451.5 396.3,451.5 400.0,451.5 C403.8,451.5 407.6,451.5 411.4,451.5 C415.2,451.5 419.0,451.5 422.9,451.5 C426.7,451.5 430.5,451.5 434.3,451.5 C438.1,451.5 441.9,451.5 445.7,451.5 C449.5,451.5 453.3,451.5 457.1,451.5 C461.0,451.5 464.8,451.5 468.6,451.5 C472.4,451.5 476.2,451.5 480.0,451.5 C483.8,451.5 487.6,451.5 491.4,451.5 C495.2,451.5 499.0,451.5 502.9,451.5 C506.7,451.5 510.5,451.5 514.3,451.5 C518.1,451.5 521.9,451.5 525.7,451.5 C529.5,451.5 533.3,451.5 537.1,451.5 C541.0,451.5 544.8,451.5 548.6,451.5 C552.4,451.5 556.3,451.6 560.0,451.5 C563.4,451.4 566.7,451.2 570.0,451.1 C573.3,451.0 576.7,450.9 580.0,450.8 C583.3,450.6 586.7,450.5 590.0,450.4 C593.3,450.2 596.7,450.1 600.0,450.0 C603.3,449.9 606.7,449.9 610.0,449.8 C613.3,449.7 616.7,449.7 620.0,449.6 C623.3,449.5 626.7,449.5 630.0,449.4 C633.3,449.3 636.7,449.3 640.0,449.2 C643.3,449.1 646.1,449.0 650.0,449.0 C655.5,448.9 663.3,448.9 670.0,449.0 C676.7,449.1 685.6,452.1 690.0,449.5 C693.7,447.3 694.1,441.5 696.3,437.0 C698.9,431.8 701.9,424.8 704.7,420.3 C706.8,416.9 708.9,415.2 711.0,412.0 C713.7,407.9 716.4,397.6 719.3,397.3 C721.6,397.1 724.5,402.2 726.6,405.7 C729.3,410.1 731.0,417.0 733.0,422.4 C734.9,427.4 735.4,435.0 738.2,437.0 C740.1,438.4 744.0,438.3 745.5,437.0 C747.4,435.4 746.7,430.0 747.2,426.6 C747.8,423.1 748.4,419.6 749.0,416.1 C749.5,412.7 750.2,409.2 750.7,405.7 C751.2,402.1 751.5,398.4 752.0,394.8 C752.4,391.2 752.8,387.5 753.2,383.9 C753.6,380.3 754.1,376.6 754.5,373.0 C754.9,369.4 755.3,365.7 755.7,362.1 C756.2,358.5 756.6,355.5 757.0,351.2 C757.6,345.0 757.7,335.2 759.1,328.2 C760.3,322.1 762.3,316.8 764.3,311.4 C766.2,306.3 768.5,296.9 770.6,296.8 C772.4,296.7 774.8,303.8 775.9,307.2 C776.9,310.3 776.8,313.3 777.3,316.3 C777.7,319.3 778.2,322.4 778.6,325.4 C779.1,328.4 779.3,331.0 780.0,334.5 C781.0,339.2 783.3,346.1 784.2,351.2 C785.0,355.4 785.1,358.9 785.5,362.7 C786.0,366.6 786.4,370.4 786.9,374.2 C787.3,378.1 787.7,381.9 788.2,385.8 C788.6,389.6 788.9,393.7 789.5,397.3 C790.0,400.5 790.7,403.3 791.2,406.4 C791.8,409.4 792.4,412.4 793.0,415.4 C793.5,418.5 793.2,423.9 794.7,424.5 C796.1,425.1 799.5,422.2 801.0,420.3 C802.5,418.5 803.0,416.0 803.7,413.5 C804.6,410.5 804.9,406.7 805.5,403.3 C806.1,399.9 806.7,396.5 807.4,393.1 C808.0,389.8 808.6,386.4 809.2,383.0 C809.8,379.6 809.7,376.5 811.0,372.8 C812.7,367.9 816.8,357.0 819.7,356.8 C822.1,356.7 825.5,363.5 827.0,367.0 C828.4,370.1 828.3,373.4 828.9,376.7 C829.6,379.9 830.2,383.1 830.9,386.3 C831.5,389.6 831.7,392.1 832.8,396.0 C834.5,402.1 839.6,413.4 841.5,419.3 C842.7,422.9 843.1,425.1 843.9,428.0 C844.7,430.9 845.6,433.9 846.4,436.8 C847.2,439.7 847.5,443.2 848.8,445.5 C849.9,447.4 850.9,449.1 853.0,449.8 C856.7,451.0 865.6,447.4 870.6,447.0 C874.3,446.7 877.1,447.0 880.4,447.0 C883.7,447.0 886.9,447.0 890.2,447.0 C893.5,447.0 896.7,447.0 900.0,447.0 C903.3,447.0 906.7,446.9 910.0,446.9 C913.3,446.9 916.7,446.9 920.0,446.8 C923.3,446.8 926.7,446.8 930.0,446.8 C933.3,446.7 936.7,446.7 940.0,446.7 C943.3,446.6 946.7,446.6 950.0,446.6 C953.3,446.6 956.7,446.5 960.0,446.5 C963.3,446.5 966.7,446.7 970.0,446.8 C973.3,446.8 976.7,446.9 980.0,447.0 C983.3,447.1 986.7,447.2 990.0,447.2 C993.3,447.3 996.7,447.3 1000.0,447.5 C1003.3,447.7 1006.7,448.1 1010.0,448.4 C1013.3,448.7 1016.7,449.0 1020.0,449.2 C1023.3,449.5 1026.7,449.8 1030.0,450.1 C1033.3,450.4 1036.7,450.9 1040.0,451.0 C1043.3,451.1 1046.7,451.0 1050.0,451.0 C1053.3,451.0 1056.7,451.0 1060.0,451.0 C1063.3,451.0 1066.7,451.0 1070.0,451.1 C1073.3,451.1 1076.7,451.1 1080.0,451.1 C1083.3,451.1 1086.7,451.1 1090.0,451.1 C1093.3,451.1 1096.7,451.1 1100.0,451.1 C1103.2,451.1 1106.2,451.1 1109.4,451.1 C1112.5,451.1 1115.6,451.1 1118.8,451.1 C1121.9,451.1 1125.0,451.1 1128.1,451.1 C1131.2,451.1 1134.5,452.1 1137.5,451.1 C1140.9,450.0 1145.1,446.8 1147.2,443.8 C1149.1,441.0 1149.0,437.3 1149.9,434.0 C1150.8,430.8 1151.8,427.5 1152.7,424.3 C1153.6,421.0 1154.1,417.5 1155.4,414.5 C1156.7,411.6 1158.3,408.7 1160.3,406.3 C1162.3,403.8 1165.5,399.9 1167.6,399.8 C1169.1,399.8 1170.3,401.4 1171.7,403.0 C1173.9,405.5 1176.2,410.8 1178.2,414.5 C1180.0,417.8 1181.7,420.5 1183.0,424.2 C1184.5,428.5 1185.2,434.1 1186.3,439.0 L1186.3,451.0 L14.5,451.0 Z" fill="rgba(0,0,0,0.13)" stroke="none"/>
<path d="M14.0,451.0 C18.0,451.0 21.9,451.0 25.9,451.0 C29.8,451.0 33.8,451.0 37.7,451.0 C41.7,451.0 45.6,451.0 49.6,451.0 C53.5,451.0 57.5,451.0 61.4,451.0 C65.4,451.0 69.3,451.0 73.3,451.0 C77.2,451.0 81.2,451.0 85.1,451.0 C89.1,451.0 93.0,451.0 97.0,451.0 C100.9,451.0 104.9,451.0 108.8,451.0 C112.8,451.0 116.7,451.0 120.7,451.0 C124.6,451.0 128.6,451.0 132.5,451.0 C136.5,451.0 140.4,451.0 144.4,451.0 C148.3,451.0 152.3,451.0 156.2,451.0 C160.2,451.0 164.1,451.0 168.1,451.0 C172.0,451.0 176.0,451.0 180.0,451.0 C183.9,451.0 187.9,451.0 191.8,451.0 C195.8,451.0 199.7,451.0 203.7,451.0 C207.6,451.0 211.6,451.0 215.5,451.0 C219.5,451.0 223.4,451.0 227.4,451.0 C231.3,451.0 235.3,451.0 239.2,451.0 C243.2,451.0 247.1,451.0 251.1,451.0 C255.0,451.0 259.0,451.0 262.9,451.0 C266.9,451.0 270.8,451.0 274.8,451.0 C278.7,451.0 282.7,451.0 286.6,451.0 C290.6,451.0 294.5,451.0 298.5,451.0 C302.4,451.0 306.4,451.0 310.3,451.0 C314.3,451.0 318.2,451.0 322.2,451.0 C326.1,451.0 330.1,451.0 334.0,451.0 C338.0,451.0 342.0,451.0 345.9,451.0 C349.9,451.0 353.8,451.0 357.8,451.0 C361.7,451.0 365.7,451.0 369.6,451.0 C373.6,451.0 377.5,451.0 381.5,451.0 C385.4,451.0 389.4,451.0 393.3,451.0 C397.3,451.0 401.2,451.0 405.2,451.0 C409.1,451.0 413.1,451.0 417.0,451.0 C421.0,451.0 424.9,451.0 428.9,451.0 C432.8,451.0 436.8,451.0 440.7,451.0 C444.7,451.0 448.6,451.0 452.6,451.0 C456.5,451.0 460.5,451.0 464.4,451.0 C468.4,451.0 472.3,451.0 476.3,451.0 C480.2,451.0 484.2,451.0 488.1,451.0 C492.1,451.0 496.1,451.0 500.0,451.0 C503.9,451.0 507.9,451.0 511.8,451.0 C515.7,451.0 519.7,451.0 523.6,451.0 C527.5,451.0 531.4,451.0 535.4,451.0 C539.3,451.0 543.2,451.0 547.2,451.0 C551.1,451.0 555.0,451.0 559.0,451.0 C562.9,451.0 566.8,451.0 570.8,451.0 C574.7,451.0 578.6,451.0 582.5,451.1 C586.5,451.1 590.4,451.1 594.3,451.1 C598.3,451.1 602.2,451.1 606.1,451.1 C610.1,451.1 614.0,451.1 617.9,451.1 C621.9,451.1 625.8,451.1 629.7,451.1 C633.7,451.1 637.6,451.1 641.5,451.1 C645.4,451.1 649.4,451.1 653.3,451.1 C657.2,451.1 661.2,451.1 665.1,451.1 C669.0,451.1 673.0,451.1 676.9,451.1 C680.8,451.1 684.8,451.1 688.7,451.1 C692.6,451.1 696.5,451.1 700.5,451.1 C704.4,451.1 708.3,451.1 712.3,451.1 C716.2,451.1 720.1,451.1 724.1,451.1 C728.0,451.1 731.9,451.1 735.9,451.1 C739.8,451.1 743.7,451.2 747.6,451.2 C751.6,451.2 755.5,451.2 759.4,451.2 C763.4,451.2 767.3,451.2 771.2,451.2 C775.2,451.2 779.1,451.2 783.0,451.2 C787.0,451.2 790.9,451.2 794.8,451.2 C798.7,451.2 802.7,451.2 806.6,451.2 C810.5,451.2 814.5,451.2 818.4,451.2 C822.3,451.2 826.3,451.2 830.2,451.2 C834.1,451.2 838.1,451.2 842.0,451.2 C845.9,451.2 849.8,451.2 853.8,451.2 C857.7,451.2 861.6,451.2 865.6,451.2 C869.5,451.2 873.4,451.2 877.4,451.2 C881.3,451.2 885.2,451.2 889.2,451.2 C893.1,451.2 897.0,451.2 901.0,451.2 C904.9,451.3 908.8,451.3 912.7,451.3 C916.7,451.3 920.6,451.3 924.5,451.3 C928.5,451.3 932.4,451.3 936.3,451.3 C940.3,451.3 944.2,451.3 948.1,451.3 C952.1,451.3 956.0,451.3 959.9,451.3 C963.8,451.3 967.8,451.3 971.7,451.3 C975.6,451.3 980.1,452.7 983.5,451.3 C987.0,449.9 990.3,445.8 992.2,442.6 C994.0,439.7 994.2,436.1 995.1,432.9 C996.1,429.7 997.1,426.4 998.1,423.2 C999.0,420.0 1000.1,416.9 1001.0,413.5 C1002.0,409.8 1002.9,405.7 1003.9,401.9 C1004.8,398.0 1005.8,394.1 1006.7,390.2 C1007.7,386.4 1008.6,382.4 1009.6,378.6 C1010.5,375.0 1011.6,371.7 1012.5,368.3 C1013.5,364.8 1014.5,361.4 1015.5,357.9 C1016.4,354.5 1017.2,347.6 1018.4,347.6 C1020.1,347.6 1023.3,363.2 1025.0,369.0 C1026.1,372.9 1026.8,375.5 1027.7,378.8 C1028.6,382.1 1029.4,385.3 1030.3,388.6 C1031.2,391.9 1032.1,395.1 1033.0,398.4 C1033.9,401.7 1034.8,404.9 1035.7,408.2 C1036.6,411.5 1037.4,414.7 1038.3,418.0 C1039.2,421.3 1039.7,427.7 1041.0,427.8 C1042.8,427.9 1047.5,414.4 1049.0,409.0 C1050.0,405.2 1049.9,402.3 1050.3,399.0 C1050.8,395.7 1051.2,392.3 1051.7,389.0 C1052.2,385.7 1052.6,382.3 1053.1,379.0 C1053.5,375.7 1054.1,372.5 1054.4,369.0 C1054.8,365.3 1054.9,361.3 1055.1,357.4 C1055.4,353.5 1055.6,349.7 1055.9,345.8 C1056.1,342.0 1056.4,338.1 1056.6,334.2 C1056.8,330.4 1057.1,326.5 1057.3,322.6 C1057.6,318.8 1057.8,314.9 1058.1,311.1 C1058.3,307.2 1058.6,303.3 1058.8,299.5 C1059.0,295.6 1059.3,291.7 1059.5,287.9 C1059.8,284.0 1060.0,280.2 1060.3,276.3 C1060.5,272.4 1059.8,268.5 1061.0,264.7 C1062.4,260.2 1066.6,251.3 1069.0,251.4 C1071.1,251.5 1073.4,258.3 1074.5,262.0 C1075.6,265.7 1075.2,269.7 1075.6,273.6 C1076.0,277.4 1076.4,281.3 1076.7,285.2 C1077.1,289.0 1077.5,292.9 1077.8,296.8 C1078.2,300.6 1078.6,304.5 1079.0,308.3 C1079.3,312.2 1079.7,316.1 1080.1,319.9 C1080.5,323.8 1080.8,327.8 1081.2,331.5 C1081.6,334.9 1082.1,337.9 1082.5,341.1 C1083.0,344.4 1083.4,347.6 1083.8,350.8 C1084.3,354.0 1084.7,357.2 1085.2,360.4 C1085.6,363.6 1086.0,366.8 1086.5,370.1 C1086.9,373.3 1087.3,376.5 1087.8,379.7 C1088.3,383.0 1088.9,386.3 1089.4,389.6 C1090.0,392.8 1090.5,396.1 1091.0,399.4 C1091.6,402.7 1092.1,406.0 1092.7,409.3 C1093.2,412.6 1093.7,415.9 1094.3,419.1 C1094.8,422.4 1095.2,429.0 1095.9,429.0 C1096.6,429.0 1097.5,422.6 1098.2,419.3 C1099.0,416.1 1099.8,412.9 1100.6,409.6 C1101.3,406.4 1102.1,403.2 1102.9,400.0 C1103.6,396.7 1104.2,394.2 1105.2,390.3 C1106.8,384.1 1109.5,372.8 1112.0,366.3 C1113.9,361.5 1115.8,354.2 1118.0,354.2 C1120.4,354.2 1123.8,364.7 1126.0,368.9 C1127.6,372.0 1129.1,374.0 1130.0,377.0 C1131.1,380.4 1131.1,384.6 1131.7,388.4 C1132.2,392.2 1132.8,396.0 1133.3,399.8 C1133.9,403.6 1134.2,406.9 1135.0,411.2 C1136.0,416.8 1137.2,424.9 1139.0,430.7 C1140.6,435.6 1142.7,440.0 1144.8,443.8 C1146.6,446.9 1147.7,450.7 1150.5,452.0 C1153.9,453.6 1159.7,450.9 1165.0,450.3 C1171.4,449.6 1179.2,448.7 1186.3,447.9 L1186.3,451.0 L14.0,451.0 Z" fill="rgba(250,40,40,0.11)" stroke="none"/>
<path d="M15.2,447.5 C15.6,444.7 15.9,441.9 16.3,439.1 C16.6,436.3 17.0,433.6 17.3,430.8 C17.7,428.0 18.0,425.3 18.4,422.4 C18.8,419.1 19.3,415.4 19.7,411.9 C20.1,408.4 20.6,404.9 21.0,401.4 C21.4,398.0 21.9,394.5 22.3,391.0 C22.7,387.5 23.2,383.9 23.6,380.5 C24.0,377.3 24.5,374.2 24.9,371.1 C25.3,367.9 25.8,364.8 26.2,361.6 C26.6,358.5 27.1,355.4 27.5,352.2 C27.9,349.1 28.5,346.0 28.8,342.8 C29.1,339.4 29.2,335.8 29.4,332.4 C29.5,328.9 29.7,325.4 29.9,321.9 C30.1,318.4 30.3,314.9 30.4,311.4 C30.6,308.0 30.8,304.3 31.0,301.0 C31.1,298.0 31.2,295.2 31.3,292.3 C31.4,289.4 31.6,286.6 31.7,283.7 C31.8,280.8 31.9,277.9 32.0,275.0 C32.1,272.0 32.3,268.8 32.5,265.7 C32.7,262.6 32.8,259.5 33.0,256.4 C33.2,253.3 33.3,250.2 33.5,247.1 C33.7,244.0 33.7,241.5 34.0,237.8 C34.4,232.2 35.3,223.6 36.0,217.0 C36.6,211.0 36.9,204.6 38.0,200.0 C38.8,196.8 39.8,194.3 41.0,192.0 C42.0,190.1 43.3,187.0 44.3,187.0 C45.3,187.0 46.2,190.2 47.0,192.0 C47.9,194.1 48.7,196.4 49.2,199.0 C49.8,202.2 49.8,206.1 50.1,209.7 C50.4,213.2 50.8,216.8 51.1,220.3 C51.4,223.9 51.7,227.4 52.0,231.0 C52.3,234.8 52.6,238.8 52.9,242.7 C53.2,246.6 53.6,250.4 53.9,254.3 C54.2,258.2 54.5,262.1 54.8,266.0 C55.0,269.8 55.2,273.6 55.4,277.3 C55.6,281.1 55.7,284.9 55.9,288.7 C56.1,292.4 56.3,295.8 56.5,300.0 C56.8,305.3 57.4,312.9 57.7,318.0 C57.9,321.7 58.0,324.4 58.2,327.7 C58.4,330.9 58.5,334.1 58.7,337.3 C58.9,340.6 58.9,343.7 59.2,347.0 C59.5,350.6 60.1,354.4 60.6,358.2 C61.1,361.9 61.5,365.6 62.0,369.3 C62.5,373.1 63.0,377.0 63.4,380.5 C63.8,383.5 64.1,386.1 64.4,388.9 C64.8,391.7 65.1,394.5 65.5,397.3 C65.8,400.1 66.2,402.9 66.5,405.7 C66.8,408.5 67.0,411.3 67.2,414.1 C67.4,416.9 67.7,419.6 67.9,422.4 C68.1,425.2 68.1,427.5 68.6,430.8 C69.4,435.8 69.5,446.8 72.8,449.6 C75.3,451.6 80.0,451.0 83.3,450.0 C87.0,448.9 90.1,443.9 93.8,442.3 C97.1,440.8 100.6,440.3 104.2,440.2 C108.2,440.1 112.9,441.0 116.8,442.3 C120.6,443.5 124.1,446.0 127.3,447.5 C130.1,448.8 132.1,450.4 135.0,451.0 C138.4,451.8 142.9,451.0 146.8,451.0 C150.7,451.0 154.6,451.1 158.6,451.1 C162.5,451.1 166.4,451.1 170.4,451.1 C174.3,451.1 178.2,451.1 182.1,451.1 C186.1,451.2 190.0,451.2 193.9,451.2 C197.9,451.2 201.8,451.2 205.7,451.2 C209.6,451.2 213.6,451.2 217.5,451.2 C221.4,451.3 225.4,451.3 229.3,451.3 C233.2,451.3 237.1,451.3 241.1,451.3 C245.0,451.3 248.9,451.3 252.9,451.4 C256.8,451.4 260.7,451.4 264.6,451.4 C268.6,451.4 272.5,451.4 276.4,451.4 C280.4,451.4 284.3,451.5 288.2,451.5 C292.1,451.5 296.1,451.5 300.0,451.5 C303.9,451.5 307.9,451.5 311.8,451.5 C315.7,451.5 319.7,451.5 323.6,451.5 C327.6,451.5 331.5,451.5 335.4,451.5 C339.4,451.5 343.3,451.5 347.2,451.5 C351.2,451.5 355.1,451.5 359.0,451.5 C363.0,451.5 366.9,451.5 370.9,451.5 C374.8,451.5 378.7,451.5 382.7,451.5 C386.6,451.5 390.5,451.5 394.5,451.5 C398.4,451.5 402.3,451.5 406.3,451.5 C410.2,451.5 414.2,451.5 418.1,451.5 C422.0,451.5 426.0,451.5 429.9,451.5 C433.8,451.5 437.8,451.5 441.7,451.5 C445.7,451.5 449.6,451.5 453.5,451.5 C457.5,451.5 461.4,451.5 465.3,451.5 C469.3,451.5 473.2,451.5 477.1,451.5 C481.1,451.5 485.0,451.5 489.0,451.5 C492.9,451.5 496.8,451.5 500.8,451.5 C504.7,451.5 508.6,451.5 512.6,451.5 C516.5,451.5 520.4,451.5 524.4,451.5 C528.3,451.5 532.3,451.5 536.2,451.5 C540.1,451.5 544.6,452.0 548.0,451.5 C550.7,451.1 553.2,451.1 555.2,449.2 C558.2,446.4 559.7,439.0 561.8,433.5 C564.1,427.6 566.1,420.6 568.4,415.0 C570.3,410.2 571.8,405.2 574.3,402.0 C576.2,399.6 578.9,396.5 580.8,396.7 C582.5,396.9 583.9,399.7 585.4,402.0 C587.7,405.5 590.0,411.5 592.0,416.4 C593.9,421.2 595.2,426.3 597.2,430.9 C599.1,435.3 601.3,442.9 603.8,443.3 C605.8,443.7 608.5,439.8 610.4,437.4 C612.5,434.8 614.1,432.0 615.6,428.2 C617.8,422.7 618.5,413.0 620.9,407.2 C622.7,402.7 625.0,396.7 627.4,396.0 C629.0,395.5 631.1,397.0 632.7,398.7 C635.4,401.7 637.2,409.7 639.2,415.0 C641.1,420.0 642.0,426.4 644.5,429.6 C646.3,431.9 648.9,433.7 651.0,434.0 C652.8,434.2 655.1,433.5 656.3,432.2 C657.8,430.5 657.5,426.6 658.0,423.9 C658.6,421.1 659.2,418.3 659.8,415.5 C660.3,412.8 660.5,410.2 661.5,407.2 C662.9,403.2 665.6,397.5 668.1,394.0 C670.1,391.3 672.6,387.7 674.7,387.6 C676.5,387.5 678.4,389.5 680.0,391.5 C682.5,394.6 684.5,401.4 686.5,406.0 C688.3,410.1 689.8,413.6 691.7,417.7 C693.8,422.2 696.4,431.4 698.3,432.0 C699.1,432.3 699.7,431.6 700.5,430.8 C702.6,428.7 706.4,421.2 708.8,416.1 C711.2,410.9 712.6,404.5 715.0,400.0 C716.9,396.4 718.9,391.1 721.4,391.0 C724.4,390.9 729.2,398.4 731.9,403.6 C735.2,409.8 735.6,419.7 738.2,426.6 C740.5,432.7 743.6,439.2 746.5,443.3 C748.5,446.1 750.1,448.7 752.8,449.6 C756.1,450.7 761.0,448.2 765.4,447.5 C770.1,446.8 775.1,445.2 780.0,445.4 C784.9,445.6 790.8,448.2 794.7,448.6 C797.2,448.8 799.3,449.6 800.8,448.4 C802.9,446.7 802.7,440.6 803.7,436.8 C804.7,432.9 805.6,429.0 806.6,425.1 C807.6,421.3 808.7,417.3 809.5,413.5 C810.2,409.9 810.7,406.5 811.3,403.0 C811.8,399.5 812.4,396.0 813.0,392.5 C813.6,389.0 814.2,385.5 814.8,382.0 C815.4,378.5 816.0,375.0 816.5,371.5 C817.1,368.0 817.4,365.2 818.3,361.0 C819.6,354.8 821.7,344.5 824.0,338.0 C825.8,332.9 828.4,324.7 830.0,324.8 C831.4,324.9 832.2,330.9 833.3,334.0 C834.4,337.1 835.6,340.1 836.7,343.2 C837.8,346.3 839.1,349.2 840.0,352.4 C840.9,355.8 841.3,359.5 842.0,363.1 C842.6,366.6 843.3,370.2 843.9,373.7 C844.6,377.3 845.2,380.8 845.9,384.4 C846.5,388.0 847.2,391.5 847.8,395.1 C848.5,398.6 849.1,402.2 849.8,405.7 C850.4,409.3 850.8,416.3 851.7,416.4 C852.5,416.5 853.6,410.6 854.6,407.7 C855.6,404.8 856.5,401.8 857.5,398.9 C858.5,396.0 859.7,393.3 860.4,390.2 C861.1,386.9 861.2,383.2 861.6,379.8 C861.9,376.3 862.3,372.8 862.7,369.3 C863.1,365.8 863.5,362.4 863.9,358.9 C864.3,355.4 864.7,351.9 865.0,348.4 C865.4,345.0 865.9,341.6 866.2,338.0 C866.5,334.2 866.7,330.2 866.9,326.3 C867.2,322.4 867.4,318.6 867.7,314.7 C867.9,310.8 868.2,306.9 868.4,303.0 C868.6,299.1 868.9,295.2 869.1,291.3 C869.4,287.4 869.6,283.6 869.9,279.7 C870.1,275.8 870.2,271.7 870.6,268.0 C871.0,264.7 871.6,261.7 872.0,258.6 C872.5,255.4 873.0,252.3 873.5,249.2 C874.0,246.0 874.5,242.9 875.0,239.7 C875.4,236.6 874.9,231.1 876.4,230.3 C877.6,229.7 880.9,231.5 882.2,233.3 C883.9,235.7 883.2,241.0 883.7,244.9 C884.2,248.7 884.6,252.6 885.1,256.4 C885.6,260.3 886.2,264.2 886.6,268.0 C887.0,271.6 887.2,275.1 887.6,278.7 C887.9,282.2 888.2,285.8 888.5,289.3 C888.9,292.9 889.2,296.4 889.5,300.0 C889.8,303.6 890.1,307.1 890.5,310.7 C890.8,314.2 891.1,317.8 891.4,321.3 C891.8,324.9 892.0,328.4 892.4,332.0 C892.8,335.6 893.4,339.3 893.9,342.9 C894.3,346.6 894.8,350.2 895.3,353.9 C895.8,357.5 896.3,361.1 896.8,364.8 C897.2,368.4 897.5,371.5 898.2,375.7 C899.2,381.4 901.0,396.0 902.6,396.0 C904.3,396.0 907.3,379.2 908.4,372.8 C909.1,368.3 909.0,365.0 909.4,361.2 C909.7,357.3 910.0,353.4 910.3,349.6 C910.7,345.7 911.0,341.8 911.3,337.9 C911.6,334.1 911.9,330.2 912.3,326.3 C912.7,322.4 913.1,318.5 913.4,314.6 C913.8,310.8 914.2,306.9 914.6,303.0 C915.0,299.1 915.3,295.2 915.7,291.3 C916.1,287.4 916.5,283.5 916.9,279.7 C917.2,275.8 917.5,271.7 918.0,268.0 C918.5,264.6 919.1,261.5 919.7,258.2 C920.3,255.0 920.8,251.8 921.4,248.5 C922.0,245.2 922.5,242.0 923.1,238.8 C923.7,235.5 923.8,229.1 924.8,229.0 C925.9,228.8 928.5,235.7 929.7,239.0 C930.7,241.9 931.0,244.8 931.6,247.7 C932.3,250.6 932.9,253.4 933.6,256.3 C934.2,259.2 935.0,261.9 935.5,265.0 C936.0,268.5 936.1,272.4 936.4,276.1 C936.7,279.8 937.0,283.5 937.3,287.2 C937.6,290.9 937.9,294.6 938.2,298.3 C938.5,302.0 938.8,305.7 939.1,309.4 C939.4,313.1 939.7,316.8 940.0,320.5 C940.3,324.1 940.6,327.6 941.0,331.1 C941.3,334.7 941.6,338.2 941.9,341.8 C942.2,345.4 942.5,348.9 942.9,352.4 C943.2,356.0 943.5,359.6 943.8,363.1 C944.1,366.6 944.4,370.2 944.8,373.8 C945.1,377.3 945.2,380.9 945.7,384.4 C946.2,388.0 947.0,391.5 947.6,395.1 C948.3,398.6 948.9,402.2 949.6,405.7 C950.2,409.3 950.3,416.2 951.5,416.4 C953.0,416.6 957.4,406.4 958.8,401.9 C959.9,398.3 959.6,395.1 960.0,391.7 C960.4,388.3 960.8,384.9 961.2,381.5 C961.6,378.1 962.0,374.7 962.4,371.4 C962.8,368.0 963.2,364.6 963.6,361.2 C964.0,357.8 964.4,354.4 964.8,351.0 C965.2,347.6 964.6,344.0 966.0,340.8 C967.6,337.1 972.2,330.5 974.8,330.6 C977.0,330.7 979.3,335.1 980.6,338.0 C982.0,341.3 981.9,345.7 982.5,349.6 C983.2,353.5 983.8,357.3 984.5,361.2 C985.1,365.1 985.5,368.3 986.4,372.8 C987.7,379.2 990.9,389.6 992.2,396.0 C993.1,400.5 993.5,403.8 994.1,407.7 C994.8,411.6 995.4,415.4 996.1,419.3 C996.7,423.2 997.1,426.7 998.0,431.0 C999.1,436.2 999.6,445.1 1002.4,448.4 C1004.3,450.6 1007.2,450.9 1010.0,451.5 C1013.3,452.2 1017.5,451.5 1021.2,451.5 C1025.0,451.5 1028.8,451.5 1032.5,451.5 C1036.2,451.5 1040.0,451.5 1043.8,451.5 C1047.5,451.5 1051.2,451.5 1055.0,451.5 C1058.8,451.5 1062.5,451.5 1066.2,451.5 C1070.0,451.5 1073.8,451.5 1077.5,451.5 C1081.2,451.5 1085.0,451.5 1088.8,451.5 C1092.5,451.5 1096.3,451.5 1100.0,451.5 C1103.6,451.5 1107.2,451.5 1110.8,451.6 C1114.4,451.6 1118.0,451.6 1121.6,451.6 C1125.2,451.6 1128.8,451.7 1132.4,451.7 C1136.0,451.7 1139.6,451.7 1143.2,451.8 C1146.7,451.8 1150.3,451.8 1153.9,451.8 C1157.5,451.8 1161.1,451.9 1164.7,451.9 C1168.3,451.9 1171.9,451.9 1175.5,451.9 C1179.1,452.0 1182.7,452.0 1186.3,452.0" fill="none" stroke="#27cc27" stroke-width="4.1" stroke-linejoin="round" stroke-linecap="round"/>
<path d="M211.3,451.0 C212.7,450.3 214.6,450.1 215.6,448.8 C217.0,447.0 216.8,443.0 217.5,440.1 C218.1,437.2 218.7,434.4 219.3,431.5 C220.0,428.6 220.7,425.8 221.2,422.8 C221.8,419.7 222.2,416.3 222.7,413.1 C223.2,409.9 223.7,406.7 224.2,403.4 C224.7,400.2 225.1,397.0 225.6,393.8 C226.1,390.5 226.6,387.3 227.1,384.1 C227.6,380.9 227.6,377.5 228.6,374.4 C229.6,371.2 231.5,368.0 233.3,365.0 C235.2,361.8 237.7,356.1 239.8,355.8 C241.3,355.6 243.1,357.5 244.4,359.5 C246.7,363.1 247.4,372.2 249.0,378.0 C250.5,383.3 252.6,388.7 253.7,393.0 C254.5,396.3 254.7,398.8 255.3,401.7 C255.8,404.6 256.3,407.4 256.8,410.3 C257.4,413.2 257.6,415.8 258.4,419.0 C259.4,423.1 261.1,432.7 263.0,433.0 C264.4,433.2 266.2,429.5 267.7,426.5 C270.3,421.4 273.8,410.3 275.1,404.2 C276.0,400.0 275.9,397.1 276.3,393.5 C276.7,389.9 277.1,386.4 277.5,382.8 C277.8,379.2 278.2,375.7 278.6,372.1 C279.0,368.5 279.3,364.9 279.8,361.4 C280.2,358.0 280.8,354.8 281.3,351.5 C281.8,348.2 282.4,344.8 282.9,341.5 C283.4,338.2 283.1,334.7 284.4,331.6 C285.7,328.3 289.0,322.4 291.0,322.3 C292.6,322.2 294.6,325.7 295.6,328.0 C296.7,330.6 296.4,334.2 296.8,337.3 C297.2,340.4 297.7,343.4 298.1,346.5 C298.5,349.6 298.9,352.6 299.3,355.8 C299.7,359.3 300.1,363.2 300.5,367.0 C300.9,370.7 301.4,374.4 301.8,378.1 C302.2,381.9 302.2,385.1 303.0,389.3 C304.1,394.8 306.5,402.2 308.6,408.0 C310.5,413.3 313.6,423.0 315.0,422.8 C316.2,422.7 316.5,415.4 317.2,411.6 C317.9,407.9 318.7,404.2 319.4,400.5 C320.1,396.7 320.7,393.7 321.6,389.3 C322.9,383.1 324.6,373.3 326.3,367.0 C327.6,362.2 329.5,358.2 330.6,354.5 C331.5,351.5 332.0,349.1 332.8,346.4 C333.5,343.7 334.2,341.1 334.9,338.4 C335.7,335.7 335.9,331.0 337.1,330.3 C337.8,329.9 339.1,330.5 339.9,331.3 C341.3,332.7 341.8,336.9 342.7,339.7 C343.6,342.5 344.6,345.2 345.5,348.0 C346.4,350.8 347.6,353.5 348.3,356.4 C349.1,359.5 349.3,363.0 349.8,366.3 C350.3,369.6 350.9,373.0 351.4,376.3 C351.9,379.6 352.4,382.9 352.9,386.2 C353.4,389.3 353.9,392.4 354.5,395.5 C355.0,398.6 355.5,401.6 356.0,404.7 C356.6,407.8 356.8,410.9 357.6,414.0 C358.5,417.2 359.6,423.2 361.3,423.4 C363.2,423.6 367.2,416.0 368.7,412.2 C370.0,408.9 369.7,405.6 370.3,402.3 C370.8,399.0 371.3,395.6 371.8,392.3 C372.4,389.0 373.0,385.7 373.4,382.4 C373.8,379.1 373.9,375.7 374.1,372.4 C374.4,369.0 374.6,365.7 374.9,362.3 C375.1,359.0 375.4,355.6 375.6,352.3 C375.9,348.9 376.1,345.6 376.4,342.2 C376.6,338.9 376.0,335.9 377.1,332.2 C378.7,327.0 384.6,314.5 387.3,314.5 C389.2,314.5 391.0,319.8 392.0,322.9 C393.0,326.2 392.8,330.0 393.1,333.6 C393.5,337.2 393.9,340.7 394.3,344.3 C394.7,347.9 395.1,351.4 395.5,355.0 C395.8,358.6 396.1,361.6 396.6,365.7 C397.3,371.1 398.1,377.9 399.4,384.3 C400.8,391.4 403.1,399.4 405.0,406.6 C406.8,413.4 408.5,426.0 410.6,426.2 C412.0,426.4 414.2,420.9 415.2,417.8 C416.3,414.4 416.0,410.4 416.5,406.6 C416.9,402.9 417.3,399.2 417.7,395.5 C418.2,391.7 418.4,387.7 419.0,384.3 C419.6,381.4 420.4,378.9 421.2,376.2 C421.9,373.5 422.6,370.8 423.3,368.1 C424.1,365.4 425.0,362.8 425.5,360.0 C426.0,357.2 426.1,354.2 426.4,351.3 C426.7,348.4 427.1,345.6 427.4,342.7 C427.7,339.8 427.6,337.4 428.3,334.0 C429.3,329.1 431.3,317.0 433.8,316.4 C435.5,316.0 438.3,320.2 440.0,323.0 C442.1,326.4 443.8,332.0 444.7,336.0 C445.4,339.3 445.3,342.2 445.6,345.2 C445.9,348.3 446.2,351.4 446.5,354.5 C446.9,357.6 447.2,360.7 447.5,363.8 C447.8,366.8 448.0,369.8 448.4,373.0 C448.8,376.3 449.3,379.8 449.8,383.2 C450.3,386.7 450.7,390.1 451.2,393.5 C451.7,396.9 452.1,400.3 452.6,403.8 C453.1,407.2 453.1,410.4 454.0,414.0 C455.0,418.1 456.3,425.8 458.6,427.0 C460.1,427.8 463.0,426.6 464.2,425.2 C465.8,423.3 465.2,418.6 465.7,415.3 C466.2,412.0 466.8,408.7 467.3,405.4 C467.8,402.1 468.4,398.9 468.8,395.5 C469.2,392.0 469.4,388.5 469.7,384.9 C470.0,381.4 470.4,377.9 470.7,374.4 C471.0,370.9 471.3,367.4 471.6,363.9 C471.9,360.3 472.2,356.8 472.5,353.3 C472.8,349.8 473.2,346.3 473.5,342.8 C473.8,339.2 473.3,336.2 474.4,332.2 C476.1,326.4 481.9,311.8 484.7,311.7 C486.5,311.6 488.3,316.3 489.3,319.2 C490.5,322.6 490.3,327.0 490.9,331.0 C491.4,334.9 491.9,338.8 492.4,342.7 C493.0,346.7 493.2,349.9 494.0,354.5 C495.2,361.2 498.3,372.3 499.5,378.7 C500.3,382.9 500.5,385.7 501.1,389.2 C501.6,392.7 502.1,396.3 502.6,399.8 C503.2,403.3 503.3,406.6 504.2,410.3 C505.2,414.7 507.2,424.3 508.8,424.3 C510.6,424.3 512.6,412.9 514.4,406.6 C516.4,399.6 518.9,390.2 520.0,384.3 C520.7,380.4 520.7,377.9 521.1,374.6 C521.5,371.4 521.9,368.2 522.2,365.0 C522.6,361.8 523.0,358.5 523.4,355.3 C523.7,352.1 524.1,348.9 524.5,345.7 C524.9,342.4 525.1,339.9 525.6,336.0 C526.4,329.7 526.6,316.4 529.3,311.7 C530.7,309.1 533.2,306.9 534.9,307.0 C536.5,307.1 538.5,309.7 539.5,311.7 C540.6,314.0 540.3,317.5 540.8,320.4 C541.2,323.3 541.6,326.2 542.0,329.1 C542.5,332.0 542.9,334.8 543.3,337.8 C543.7,341.1 544.0,344.6 544.4,348.0 C544.7,351.4 545.1,354.9 545.5,358.3 C545.8,361.7 546.2,365.1 546.5,368.5 C546.9,371.9 547.3,375.3 547.6,378.7 C548.0,382.1 548.4,385.6 548.7,389.0 C549.1,392.4 549.0,395.4 549.8,399.2 C550.9,404.2 553.4,410.6 555.3,416.0 C557.2,421.2 559.1,430.9 561.2,431.0 C562.9,431.1 564.9,425.4 566.4,421.7 C568.4,416.7 569.0,409.0 571.0,403.3 C572.8,398.1 575.1,392.2 577.6,388.9 C579.2,386.7 581.2,384.1 582.8,384.3 C584.7,384.5 586.2,388.7 588.0,391.5 C590.2,394.9 592.8,399.3 594.6,403.3 C596.3,407.1 597.1,411.4 598.6,415.0 C600.0,418.3 601.3,424.1 603.1,424.3 C604.8,424.5 607.0,419.0 609.0,416.4 C611.0,413.8 613.3,412.0 615.0,408.6 C617.4,403.7 617.7,393.5 620.2,388.9 C621.8,385.9 624.2,382.4 626.1,382.3 C627.9,382.2 629.8,385.7 631.4,387.6 C633.1,389.6 634.7,391.1 636.0,394.0 C638.2,398.8 639.1,408.7 640.6,415.0 C641.9,420.3 642.2,425.7 644.5,429.6 C646.4,432.9 650.2,437.5 652.4,437.4 C654.2,437.3 656.0,434.3 657.0,432.2 C658.1,429.9 658.0,426.6 658.5,423.9 C659.0,421.1 659.5,418.3 660.0,415.5 C660.5,412.8 660.5,410.1 661.5,407.2 C662.8,403.5 665.5,398.3 668.1,395.4 C670.2,393.0 673.2,390.1 675.3,390.2 C677.1,390.2 678.7,392.3 680.0,394.0 C681.6,396.0 682.5,399.1 683.9,402.0 C685.7,405.6 688.2,409.3 689.8,413.8 C691.8,419.4 692.8,427.8 694.4,433.5 C695.7,438.0 696.7,442.3 698.4,445.4 C699.7,447.8 700.6,449.8 703.0,451.0 C706.7,452.8 714.8,451.4 720.0,451.5 C724.3,451.6 728.0,451.5 731.9,451.5 C735.9,451.5 739.9,451.5 743.9,451.5 C747.9,451.5 751.9,451.5 755.8,451.5 C759.8,451.5 763.8,451.5 767.8,451.5 C771.8,451.5 775.7,451.5 779.7,451.5 C783.7,451.5 787.7,451.5 791.7,451.5 C795.6,451.5 799.6,451.5 803.6,451.5 C807.6,451.5 811.6,451.5 815.6,451.5 C819.5,451.5 823.5,451.5 827.5,451.5 C831.5,451.5 835.5,451.5 839.4,451.5 C843.4,451.5 847.4,451.5 851.4,451.5 C855.4,451.5 859.4,451.5 863.3,451.5 C867.3,451.5 871.3,451.5 875.3,451.5 C879.3,451.5 883.2,451.5 887.2,451.5 C891.2,451.5 895.2,451.5 899.2,451.5 C903.1,451.5 907.1,451.5 911.1,451.5 C915.1,451.5 919.1,451.5 923.1,451.5 C927.0,451.5 931.5,452.2 935.0,451.5 C937.9,450.9 940.7,450.8 942.8,448.4 C946.3,444.4 947.0,430.9 948.6,425.0 C949.6,421.4 950.2,419.2 951.0,416.3 C951.8,413.4 952.7,410.6 953.5,407.7 C954.3,404.8 955.1,402.0 955.9,399.0 C956.8,395.7 957.8,392.0 958.8,388.4 C959.8,384.9 960.7,381.4 961.7,377.9 C962.7,374.4 963.6,370.9 964.6,367.4 C965.6,363.8 965.7,357.3 967.5,356.8 C969.2,356.3 973.2,361.1 974.8,364.0 C976.5,367.0 976.4,371.1 977.2,374.7 C978.0,378.2 978.8,381.8 979.6,385.3 C980.4,388.9 981.2,392.5 982.0,396.0 C982.8,399.3 983.6,402.4 984.4,405.7 C985.2,408.9 986.1,412.1 986.9,415.3 C987.7,418.6 987.8,422.3 989.3,425.0 C990.6,427.4 993.1,431.3 995.0,431.0 C997.9,430.6 1002.1,418.6 1003.8,413.5 C1005.0,409.9 1005.1,407.0 1005.7,403.8 C1006.4,400.6 1007.0,397.3 1007.7,394.1 C1008.3,390.9 1008.6,388.3 1009.6,384.4 C1011.2,378.5 1014.5,362.3 1017.0,362.3 C1019.6,362.3 1022.3,377.6 1025.0,385.0 C1027.6,392.3 1031.1,400.8 1033.0,406.4 C1034.2,410.0 1034.8,412.3 1035.7,415.3 C1036.6,418.2 1037.4,421.2 1038.3,424.1 C1039.2,427.1 1040.0,429.7 1041.0,433.0 C1042.2,437.0 1041.7,444.0 1045.0,446.5 C1049.1,449.6 1059.6,445.8 1066.5,446.5 C1073.0,447.2 1080.6,452.1 1085.2,450.5 C1088.9,449.2 1091.5,444.4 1093.2,441.0 C1094.6,438.0 1094.5,434.8 1095.2,431.7 C1095.9,428.6 1096.5,425.5 1097.2,422.4 C1097.9,419.2 1098.5,416.1 1099.2,413.0 C1099.9,409.9 1100.5,406.7 1101.2,403.7 C1101.9,400.8 1102.6,398.1 1103.2,395.3 C1103.9,392.5 1104.6,389.8 1105.3,387.0 C1105.9,384.2 1106.7,381.5 1107.3,378.6 C1108.0,375.5 1108.6,372.1 1109.2,368.8 C1109.8,365.6 1110.5,362.3 1111.1,359.1 C1111.7,355.8 1111.8,352.3 1113.0,349.3 C1114.1,346.4 1116.2,341.4 1118.0,341.2 C1119.5,341.0 1121.3,343.9 1122.8,346.0 C1124.9,348.9 1127.3,353.8 1128.5,357.5 C1129.5,360.6 1129.4,363.6 1129.9,366.7 C1130.3,369.7 1130.8,372.8 1131.2,375.8 C1131.7,378.9 1132.1,381.9 1132.6,385.0 C1133.1,388.2 1133.7,391.6 1134.2,394.8 C1134.8,398.1 1135.3,401.4 1135.9,404.7 C1136.4,407.9 1136.5,411.1 1137.5,414.5 C1138.7,418.4 1140.9,425.9 1143.2,426.7 C1144.6,427.2 1146.9,425.7 1148.0,424.2 C1149.5,422.2 1149.3,418.0 1149.9,415.0 C1150.5,411.9 1151.2,408.8 1151.8,405.7 C1152.4,402.7 1153.0,400.3 1153.7,396.5 C1154.7,390.6 1155.2,380.1 1157.0,373.7 C1158.4,368.6 1160.8,364.6 1162.7,360.7 C1164.3,357.4 1165.7,352.3 1167.6,351.8 C1168.9,351.5 1170.5,352.6 1171.7,354.2 C1174.1,357.4 1174.7,367.9 1176.5,373.7 C1178.0,378.5 1180.0,381.8 1181.4,386.8 C1183.2,393.3 1184.9,403.3 1185.5,409.6 C1185.9,414.0 1185.7,417.2 1185.8,421.0 C1185.9,424.8 1185.9,428.6 1186.0,432.4 C1186.1,436.2 1186.2,440.0 1186.3,443.8" fill="none" stroke="#3a62de" stroke-width="4.1" stroke-linejoin="round" stroke-linecap="round"/>
<path d="M14.5,437.0 C15.8,440.5 15.8,445.5 18.4,447.5 C21.1,449.6 27.0,448.6 31.0,448.6 C34.6,448.6 37.8,447.7 41.4,447.5 C45.4,447.3 50.1,448.6 54.0,447.5 C57.8,446.5 61.9,444.4 64.5,441.3 C67.4,437.8 68.5,431.0 69.7,426.6 C70.6,423.1 70.9,420.1 71.5,416.8 C72.1,413.6 72.6,410.3 73.2,407.1 C73.8,403.8 74.2,400.9 75.0,397.3 C76.0,392.9 76.8,387.1 79.0,382.6 C81.3,378.0 85.6,370.4 88.5,370.0 C90.4,369.8 92.3,371.9 93.8,374.2 C96.7,378.6 98.5,391.5 100.0,397.3 C100.9,400.8 101.4,402.9 102.1,405.7 C102.8,408.5 103.5,411.2 104.2,414.0 C104.9,416.8 105.4,419.2 106.3,422.4 C107.6,426.8 109.9,438.0 111.6,438.1 C112.8,438.2 113.7,433.8 115.0,430.8 C117.0,426.0 121.0,417.3 122.3,412.0 C123.2,408.4 123.0,405.7 123.3,402.6 C123.7,399.4 124.0,396.2 124.4,393.1 C124.8,390.0 125.1,386.8 125.5,383.6 C125.8,380.5 126.2,377.5 126.5,374.2 C126.9,370.6 127.2,366.7 127.6,362.9 C127.9,359.1 128.3,355.4 128.6,351.6 C129.0,347.8 129.3,344.1 129.7,340.3 C130.0,336.5 130.4,332.8 130.7,329.0 C131.1,325.2 131.0,321.8 131.8,317.7 C132.8,312.6 135.1,305.7 137.0,301.0 C138.5,297.3 140.1,291.6 141.8,291.5 C143.3,291.4 145.2,295.5 146.4,298.8 C148.4,304.2 148.9,315.9 149.6,321.9 C150.0,325.7 150.1,328.2 150.4,331.3 C150.6,334.5 150.9,337.6 151.1,340.8 C151.4,343.9 151.7,347.0 151.9,350.2 C152.2,353.3 152.2,356.6 152.7,359.6 C153.2,362.5 154.1,365.2 154.8,368.0 C155.5,370.8 156.2,373.5 156.9,376.3 C157.6,379.1 158.4,381.7 159.0,384.7 C159.7,388.2 160.2,392.4 160.8,396.2 C161.4,400.1 162.0,403.9 162.7,407.8 C163.3,411.6 163.9,415.4 164.5,419.3 C165.1,423.1 165.3,430.7 166.3,430.8 C167.5,430.9 170.3,418.7 171.5,414.0 C172.3,410.6 172.6,408.1 173.1,405.1 C173.6,402.1 174.1,399.2 174.7,396.2 C175.2,393.2 175.7,390.3 176.2,387.3 C176.8,384.3 177.3,381.6 177.8,378.4 C178.3,374.8 178.7,370.7 179.1,366.9 C179.5,363.1 180.0,359.2 180.4,355.4 C180.8,351.6 181.3,347.7 181.7,343.9 C182.1,340.1 182.5,335.9 183.0,332.4 C183.4,329.4 184.0,326.8 184.4,324.0 C184.9,321.2 185.4,318.4 185.9,315.6 C186.3,312.8 186.2,309.4 187.3,307.2 C188.2,305.4 189.9,303.0 191.4,303.0 C193.3,303.0 196.3,306.6 197.7,309.3 C199.2,312.3 198.9,316.7 199.5,320.5 C200.1,324.2 200.6,327.9 201.2,331.6 C201.8,335.4 202.5,339.0 203.0,342.8 C203.5,346.7 203.7,350.6 204.0,354.5 C204.4,358.5 204.7,362.4 205.1,366.3 C205.4,370.2 205.8,374.1 206.1,378.0 C206.5,381.9 206.8,385.8 207.2,389.8 C207.5,393.7 207.3,397.0 208.2,401.5 C209.5,407.9 213.2,416.8 215.5,424.5 C217.8,432.1 217.9,443.4 221.8,447.5 C224.4,450.3 228.5,450.4 232.0,451.0 C235.6,451.6 239.6,451.1 243.3,451.1 C247.1,451.1 250.9,451.1 254.7,451.2 C258.4,451.2 262.2,451.2 266.0,451.2 C269.8,451.3 273.6,451.3 277.3,451.3 C281.1,451.4 284.9,451.4 288.7,451.4 C292.4,451.4 296.2,451.5 300.0,451.5 C303.7,451.5 307.4,451.5 311.1,451.5 C314.8,451.5 318.5,451.5 322.2,451.5 C325.9,451.5 329.6,451.5 333.3,451.5 C337.0,451.5 340.7,451.5 344.4,451.5 C348.1,451.5 351.9,451.5 355.6,451.5 C359.3,451.5 363.0,451.5 366.7,451.5 C370.4,451.5 374.1,451.5 377.8,451.5 C381.5,451.5 385.2,451.5 388.9,451.5 C392.6,451.5 396.3,451.5 400.0,451.5 C403.8,451.5 407.6,451.5 411.4,451.5 C415.2,451.5 419.0,451.5 422.9,451.5 C426.7,451.5 430.5,451.5 434.3,451.5 C438.1,451.5 441.9,451.5 445.7,451.5 C449.5,451.5 453.3,451.5 457.1,451.5 C461.0,451.5 464.8,451.5 468.6,451.5 C472.4,451.5 476.2,451.5 480.0,451.5 C483.8,451.5 487.6,451.5 491.4,451.5 C495.2,451.5 499.0,451.5 502.9,451.5 C506.7,451.5 510.5,451.5 514.3,451.5 C518.1,451.5 521.9,451.5 525.7,451.5 C529.5,451.5 533.3,451.5 537.1,451.5 C541.0,451.5 544.8,451.5 548.6,451.5 C552.4,451.5 556.3,451.6 560.0,451.5 C563.4,451.4 566.7,451.2 570.0,451.1 C573.3,451.0 576.7,450.9 580.0,450.8 C583.3,450.6 586.7,450.5 590.0,450.4 C593.3,450.2 596.7,450.1 600.0,450.0 C603.3,449.9 606.7,449.9 610.0,449.8 C613.3,449.7 616.7,449.7 620.0,449.6 C623.3,449.5 626.7,449.5 630.0,449.4 C633.3,449.3 636.7,449.3 640.0,449.2 C643.3,449.1 646.1,449.0 650.0,449.0 C655.5,448.9 663.3,448.9 670.0,449.0 C676.7,449.1 685.6,452.1 690.0,449.5 C693.7,447.3 694.1,441.5 696.3,437.0 C698.9,431.8 701.9,424.8 704.7,420.3 C706.8,416.9 708.9,415.2 711.0,412.0 C713.7,407.9 716.4,397.6 719.3,397.3 C721.6,397.1 724.5,402.2 726.6,405.7 C729.3,410.1 731.0,417.0 733.0,422.4 C734.9,427.4 735.4,435.0 738.2,437.0 C740.1,438.4 744.0,438.3 745.5,437.0 C747.4,435.4 746.7,430.0 747.2,426.6 C747.8,423.1 748.4,419.6 749.0,416.1 C749.5,412.7 750.2,409.2 750.7,405.7 C751.2,402.1 751.5,398.4 752.0,394.8 C752.4,391.2 752.8,387.5 753.2,383.9 C753.6,380.3 754.1,376.6 754.5,373.0 C754.9,369.4 755.3,365.7 755.7,362.1 C756.2,358.5 756.6,355.5 757.0,351.2 C757.6,345.0 757.7,335.2 759.1,328.2 C760.3,322.1 762.3,316.8 764.3,311.4 C766.2,306.3 768.5,296.9 770.6,296.8 C772.4,296.7 774.8,303.8 775.9,307.2 C776.9,310.3 776.8,313.3 777.3,316.3 C777.7,319.3 778.2,322.4 778.6,325.4 C779.1,328.4 779.3,331.0 780.0,334.5 C781.0,339.2 783.3,346.1 784.2,351.2 C785.0,355.4 785.1,358.9 785.5,362.7 C786.0,366.6 786.4,370.4 786.9,374.2 C787.3,378.1 787.7,381.9 788.2,385.8 C788.6,389.6 788.9,393.7 789.5,397.3 C790.0,400.5 790.7,403.3 791.2,406.4 C791.8,409.4 792.4,412.4 793.0,415.4 C793.5,418.5 793.2,423.9 794.7,424.5 C796.1,425.1 799.5,422.2 801.0,420.3 C802.5,418.5 803.0,416.0 803.7,413.5 C804.6,410.5 804.9,406.7 805.5,403.3 C806.1,399.9 806.7,396.5 807.4,393.1 C808.0,389.8 808.6,386.4 809.2,383.0 C809.8,379.6 809.7,376.5 811.0,372.8 C812.7,367.9 816.8,357.0 819.7,356.8 C822.1,356.7 825.5,363.5 827.0,367.0 C828.4,370.1 828.3,373.4 828.9,376.7 C829.6,379.9 830.2,383.1 830.9,386.3 C831.5,389.6 831.7,392.1 832.8,396.0 C834.5,402.1 839.6,413.4 841.5,419.3 C842.7,422.9 843.1,425.1 843.9,428.0 C844.7,430.9 845.6,433.9 846.4,436.8 C847.2,439.7 847.5,443.2 848.8,445.5 C849.9,447.4 850.9,449.1 853.0,449.8 C856.7,451.0 865.6,447.4 870.6,447.0 C874.3,446.7 877.1,447.0 880.4,447.0 C883.7,447.0 886.9,447.0 890.2,447.0 C893.5,447.0 896.7,447.0 900.0,447.0 C903.3,447.0 906.7,446.9 910.0,446.9 C913.3,446.9 916.7,446.9 920.0,446.8 C923.3,446.8 926.7,446.8 930.0,446.8 C933.3,446.7 936.7,446.7 940.0,446.7 C943.3,446.6 946.7,446.6 950.0,446.6 C953.3,446.6 956.7,446.5 960.0,446.5 C963.3,446.5 966.7,446.7 970.0,446.8 C973.3,446.8 976.7,446.9 980.0,447.0 C983.3,447.1 986.7,447.2 990.0,447.2 C993.3,447.3 996.7,447.3 1000.0,447.5 C1003.3,447.7 1006.7,448.1 1010.0,448.4 C1013.3,448.7 1016.7,449.0 1020.0,449.2 C1023.3,449.5 1026.7,449.8 1030.0,450.1 C1033.3,450.4 1036.7,450.9 1040.0,451.0 C1043.3,451.1 1046.7,451.0 1050.0,451.0 C1053.3,451.0 1056.7,451.0 1060.0,451.0 C1063.3,451.0 1066.7,451.0 1070.0,451.1 C1073.3,451.1 1076.7,451.1 1080.0,451.1 C1083.3,451.1 1086.7,451.1 1090.0,451.1 C1093.3,451.1 1096.7,451.1 1100.0,451.1 C1103.2,451.1 1106.2,451.1 1109.4,451.1 C1112.5,451.1 1115.6,451.1 1118.8,451.1 C1121.9,451.1 1125.0,451.1 1128.1,451.1 C1131.2,451.1 1134.5,452.1 1137.5,451.1 C1140.9,450.0 1145.1,446.8 1147.2,443.8 C1149.1,441.0 1149.0,437.3 1149.9,434.0 C1150.8,430.8 1151.8,427.5 1152.7,424.3 C1153.6,421.0 1154.1,417.5 1155.4,414.5 C1156.7,411.6 1158.3,408.7 1160.3,406.3 C1162.3,403.8 1165.5,399.9 1167.6,399.8 C1169.1,399.8 1170.3,401.4 1171.7,403.0 C1173.9,405.5 1176.2,410.8 1178.2,414.5 C1180.0,417.8 1181.7,420.5 1183.0,424.2 C1184.5,428.5 1185.2,434.1 1186.3,439.0" fill="none" stroke="#111111" stroke-width="4.1" stroke-linejoin="round" stroke-linecap="round"/>
<path d="M14.0,451.0 C18.0,451.0 21.9,451.0 25.9,451.0 C29.8,451.0 33.8,451.0 37.7,451.0 C41.7,451.0 45.6,451.0 49.6,451.0 C53.5,451.0 57.5,451.0 61.4,451.0 C65.4,451.0 69.3,451.0 73.3,451.0 C77.2,451.0 81.2,451.0 85.1,451.0 C89.1,451.0 93.0,451.0 97.0,451.0 C100.9,451.0 104.9,451.0 108.8,451.0 C112.8,451.0 116.7,451.0 120.7,451.0 C124.6,451.0 128.6,451.0 132.5,451.0 C136.5,451.0 140.4,451.0 144.4,451.0 C148.3,451.0 152.3,451.0 156.2,451.0 C160.2,451.0 164.1,451.0 168.1,451.0 C172.0,451.0 176.0,451.0 180.0,451.0 C183.9,451.0 187.9,451.0 191.8,451.0 C195.8,451.0 199.7,451.0 203.7,451.0 C207.6,451.0 211.6,451.0 215.5,451.0 C219.5,451.0 223.4,451.0 227.4,451.0 C231.3,451.0 235.3,451.0 239.2,451.0 C243.2,451.0 247.1,451.0 251.1,451.0 C255.0,451.0 259.0,451.0 262.9,451.0 C266.9,451.0 270.8,451.0 274.8,451.0 C278.7,451.0 282.7,451.0 286.6,451.0 C290.6,451.0 294.5,451.0 298.5,451.0 C302.4,451.0 306.4,451.0 310.3,451.0 C314.3,451.0 318.2,451.0 322.2,451.0 C326.1,451.0 330.1,451.0 334.0,451.0 C338.0,451.0 342.0,451.0 345.9,451.0 C349.9,451.0 353.8,451.0 357.8,451.0 C361.7,451.0 365.7,451.0 369.6,451.0 C373.6,451.0 377.5,451.0 381.5,451.0 C385.4,451.0 389.4,451.0 393.3,451.0 C397.3,451.0 401.2,451.0 405.2,451.0 C409.1,451.0 413.1,451.0 417.0,451.0 C421.0,451.0 424.9,451.0 428.9,451.0 C432.8,451.0 436.8,451.0 440.7,451.0 C444.7,451.0 448.6,451.0 452.6,451.0 C456.5,451.0 460.5,451.0 464.4,451.0 C468.4,451.0 472.3,451.0 476.3,451.0 C480.2,451.0 484.2,451.0 488.1,451.0 C492.1,451.0 496.1,451.0 500.0,451.0 C503.9,451.0 507.9,451.0 511.8,451.0 C515.7,451.0 519.7,451.0 523.6,451.0 C527.5,451.0 531.4,451.0 535.4,451.0 C539.3,451.0 543.2,451.0 547.2,451.0 C551.1,451.0 555.0,451.0 559.0,451.0 C562.9,451.0 566.8,451.0 570.8,451.0 C574.7,451.0 578.6,451.0 582.5,451.1 C586.5,451.1 590.4,451.1 594.3,451.1 C598.3,451.1 602.2,451.1 606.1,451.1 C610.1,451.1 614.0,451.1 617.9,451.1 C621.9,451.1 625.8,451.1 629.7,451.1 C633.7,451.1 637.6,451.1 641.5,451.1 C645.4,451.1 649.4,451.1 653.3,451.1 C657.2,451.1 661.2,451.1 665.1,451.1 C669.0,451.1 673.0,451.1 676.9,451.1 C680.8,451.1 684.8,451.1 688.7,451.1 C692.6,451.1 696.5,451.1 700.5,451.1 C704.4,451.1 708.3,451.1 712.3,451.1 C716.2,451.1 720.1,451.1 724.1,451.1 C728.0,451.1 731.9,451.1 735.9,451.1 C739.8,451.1 743.7,451.2 747.6,451.2 C751.6,451.2 755.5,451.2 759.4,451.2 C763.4,451.2 767.3,451.2 771.2,451.2 C775.2,451.2 779.1,451.2 783.0,451.2 C787.0,451.2 790.9,451.2 794.8,451.2 C798.7,451.2 802.7,451.2 806.6,451.2 C810.5,451.2 814.5,451.2 818.4,451.2 C822.3,451.2 826.3,451.2 830.2,451.2 C834.1,451.2 838.1,451.2 842.0,451.2 C845.9,451.2 849.8,451.2 853.8,451.2 C857.7,451.2 861.6,451.2 865.6,451.2 C869.5,451.2 873.4,451.2 877.4,451.2 C881.3,451.2 885.2,451.2 889.2,451.2 C893.1,451.2 897.0,451.2 901.0,451.2 C904.9,451.3 908.8,451.3 912.7,451.3 C916.7,451.3 920.6,451.3 924.5,451.3 C928.5,451.3 932.4,451.3 936.3,451.3 C940.3,451.3 944.2,451.3 948.1,451.3 C952.1,451.3 956.0,451.3 959.9,451.3 C963.8,451.3 967.8,451.3 971.7,451.3 C975.6,451.3 980.1,452.7 983.5,451.3 C987.0,449.9 990.3,445.8 992.2,442.6 C994.0,439.7 994.2,436.1 995.1,432.9 C996.1,429.7 997.1,426.4 998.1,423.2 C999.0,420.0 1000.1,416.9 1001.0,413.5 C1002.0,409.8 1002.9,405.7 1003.9,401.9 C1004.8,398.0 1005.8,394.1 1006.7,390.2 C1007.7,386.4 1008.6,382.4 1009.6,378.6 C1010.5,375.0 1011.6,371.7 1012.5,368.3 C1013.5,364.8 1014.5,361.4 1015.5,357.9 C1016.4,354.5 1017.2,347.6 1018.4,347.6 C1020.1,347.6 1023.3,363.2 1025.0,369.0 C1026.1,372.9 1026.8,375.5 1027.7,378.8 C1028.6,382.1 1029.4,385.3 1030.3,388.6 C1031.2,391.9 1032.1,395.1 1033.0,398.4 C1033.9,401.7 1034.8,404.9 1035.7,408.2 C1036.6,411.5 1037.4,414.7 1038.3,418.0 C1039.2,421.3 1039.7,427.7 1041.0,427.8 C1042.8,427.9 1047.5,414.4 1049.0,409.0 C1050.0,405.2 1049.9,402.3 1050.3,399.0 C1050.8,395.7 1051.2,392.3 1051.7,389.0 C1052.2,385.7 1052.6,382.3 1053.1,379.0 C1053.5,375.7 1054.1,372.5 1054.4,369.0 C1054.8,365.3 1054.9,361.3 1055.1,357.4 C1055.4,353.5 1055.6,349.7 1055.9,345.8 C1056.1,342.0 1056.4,338.1 1056.6,334.2 C1056.8,330.4 1057.1,326.5 1057.3,322.6 C1057.6,318.8 1057.8,314.9 1058.1,311.1 C1058.3,307.2 1058.6,303.3 1058.8,299.5 C1059.0,295.6 1059.3,291.7 1059.5,287.9 C1059.8,284.0 1060.0,280.2 1060.3,276.3 C1060.5,272.4 1059.8,268.5 1061.0,264.7 C1062.4,260.2 1066.6,251.3 1069.0,251.4 C1071.1,251.5 1073.4,258.3 1074.5,262.0 C1075.6,265.7 1075.2,269.7 1075.6,273.6 C1076.0,277.4 1076.4,281.3 1076.7,285.2 C1077.1,289.0 1077.5,292.9 1077.8,296.8 C1078.2,300.6 1078.6,304.5 1079.0,308.3 C1079.3,312.2 1079.7,316.1 1080.1,319.9 C1080.5,323.8 1080.8,327.8 1081.2,331.5 C1081.6,334.9 1082.1,337.9 1082.5,341.1 C1083.0,344.4 1083.4,347.6 1083.8,350.8 C1084.3,354.0 1084.7,357.2 1085.2,360.4 C1085.6,363.6 1086.0,366.8 1086.5,370.1 C1086.9,373.3 1087.3,376.5 1087.8,379.7 C1088.3,383.0 1088.9,386.3 1089.4,389.6 C1090.0,392.8 1090.5,396.1 1091.0,399.4 C1091.6,402.7 1092.1,406.0 1092.7,409.3 C1093.2,412.6 1093.7,415.9 1094.3,419.1 C1094.8,422.4 1095.2,429.0 1095.9,429.0 C1096.6,429.0 1097.5,422.6 1098.2,419.3 C1099.0,416.1 1099.8,412.9 1100.6,409.6 C1101.3,406.4 1102.1,403.2 1102.9,400.0 C1103.6,396.7 1104.2,394.2 1105.2,390.3 C1106.8,384.1 1109.5,372.8 1112.0,366.3 C1113.9,361.5 1115.8,354.2 1118.0,354.2 C1120.4,354.2 1123.8,364.7 1126.0,368.9 C1127.6,372.0 1129.1,374.0 1130.0,377.0 C1131.1,380.4 1131.1,384.6 1131.7,388.4 C1132.2,392.2 1132.8,396.0 1133.3,399.8 C1133.9,403.6 1134.2,406.9 1135.0,411.2 C1136.0,416.8 1137.2,424.9 1139.0,430.7 C1140.6,435.6 1142.7,440.0 1144.8,443.8 C1146.6,446.9 1147.7,450.7 1150.5,452.0 C1153.9,453.6 1159.7,450.9 1165.0,450.3 C1171.4,449.6 1179.2,448.7 1186.3,447.9" fill="none" stroke="#fb3434" stroke-width="4.1" stroke-linejoin="round" stroke-linecap="round"/>
<path d="M17.8,832.0 C20.4,824.2 24.3,814.9 25.7,808.6 C26.6,804.5 26.4,801.6 26.8,798.2 C27.1,794.7 27.5,791.2 27.8,787.7 C28.2,784.3 28.5,780.8 28.9,777.3 C29.2,773.8 29.5,770.3 29.9,766.9 C30.2,763.4 30.6,759.9 30.9,756.4 C31.3,753.0 31.6,749.5 32.0,746.0 C32.4,742.3 32.7,738.5 33.1,734.7 C33.5,731.0 33.9,727.2 34.2,723.4 C34.6,719.7 35.0,715.9 35.3,712.1 C35.7,708.4 36.1,704.6 36.5,700.9 C36.8,697.1 37.2,693.3 37.6,689.6 C37.9,685.8 38.3,682.0 38.7,678.3 C39.1,674.5 39.4,670.8 39.8,667.0 C40.2,663.2 40.8,659.4 41.4,655.7 C41.9,651.9 42.4,648.1 42.9,644.3 C43.5,640.6 44.0,636.7 44.5,633.0 C45.0,629.5 45.3,626.3 45.8,622.9 C46.2,619.6 46.6,616.2 47.0,612.8 C47.4,609.5 47.9,606.1 48.3,602.8 C48.7,599.4 49.1,596.0 49.5,592.7 C50.0,589.3 49.9,582.7 50.8,582.6 C51.8,582.5 54.3,591.0 55.5,595.0 C56.5,598.5 56.9,601.7 57.6,605.0 C58.3,608.3 59.0,611.7 59.7,615.0 C60.4,618.3 61.3,621.5 61.8,625.0 C62.3,628.7 62.4,632.7 62.7,636.6 C63.1,640.5 63.4,644.3 63.7,648.2 C64.0,652.1 64.3,655.9 64.6,659.8 C64.9,663.7 65.2,667.5 65.6,671.4 C65.9,675.3 66.2,679.2 66.5,683.0 C66.8,686.6 67.0,690.0 67.3,693.5 C67.5,697.0 67.8,700.5 68.1,704.0 C68.3,707.5 68.6,711.0 68.8,714.5 C69.1,718.0 69.4,721.5 69.6,725.0 C69.9,728.5 70.2,732.0 70.4,735.5 C70.7,739.0 70.9,742.5 71.2,746.0 C71.5,749.4 71.8,752.7 72.2,756.0 C72.5,759.3 72.8,762.7 73.1,766.0 C73.4,769.3 73.8,772.7 74.1,776.0 C74.4,779.3 74.7,782.7 75.0,786.0 C75.4,789.3 75.3,792.7 76.0,796.0 C76.7,799.5 78.1,803.0 79.1,806.5 C80.2,810.0 81.2,813.5 82.3,817.0 C83.3,820.5 83.3,826.8 85.4,827.5 C87.5,828.3 91.8,822.9 95.0,821.0 C98.0,819.2 100.9,817.7 104.0,816.5 C106.9,815.4 110.2,814.1 113.0,814.0 C115.5,813.9 117.6,814.5 120.0,815.5 C123.1,816.8 126.2,819.9 129.8,822.0 C133.9,824.4 139.3,827.5 143.6,829.0 C147.1,830.2 150.1,830.6 153.5,831.0 C157.1,831.4 161.0,831.1 164.8,831.1 C168.5,831.2 172.3,831.2 176.0,831.2 C179.8,831.3 183.6,831.3 187.3,831.3 C191.1,831.4 194.8,831.4 198.6,831.5 C202.3,831.5 206.1,831.5 209.8,831.6 C213.6,831.6 217.4,831.7 221.1,831.7 C224.9,831.7 228.6,831.8 232.4,831.8 C236.1,831.8 239.9,831.9 243.7,831.9 C247.4,832.0 251.2,832.0 254.9,832.0 C258.7,832.1 262.4,832.1 266.2,832.2 C269.9,832.2 273.7,832.2 277.5,832.3 C281.2,832.3 285.0,832.3 288.7,832.4 C292.5,832.4 296.2,832.5 300.0,832.5 C303.8,832.5 307.7,832.5 311.6,832.5 C315.5,832.5 319.3,832.5 323.2,832.5 C327.1,832.5 330.9,832.5 334.8,832.5 C338.7,832.5 342.5,832.5 346.4,832.5 C350.3,832.5 354.1,832.5 358.0,832.5 C361.9,832.5 365.7,832.5 369.6,832.5 C373.5,832.5 377.3,832.5 381.2,832.5 C385.1,832.5 388.9,832.5 392.8,832.5 C396.7,832.5 400.5,832.5 404.4,832.5 C408.3,832.5 412.1,832.5 416.0,832.5 C419.9,832.5 423.7,832.5 427.6,832.5 C431.5,832.5 435.3,832.5 439.2,832.5 C443.1,832.5 446.9,832.5 450.8,832.5 C454.7,832.5 458.5,832.5 462.4,832.5 C466.3,832.5 470.1,832.5 474.0,832.5 C477.9,832.5 481.7,832.5 485.6,832.5 C489.5,832.5 493.3,832.5 497.2,832.5 C501.1,832.5 504.9,832.5 508.8,832.5 C512.7,832.5 516.5,832.5 520.4,832.5 C524.3,832.5 528.1,832.5 532.0,832.5 C535.9,832.5 539.7,832.5 543.6,832.5 C547.5,832.5 551.3,832.5 555.2,832.5 C559.1,832.5 562.9,832.5 566.8,832.5 C570.7,832.5 574.5,832.5 578.4,832.5 C582.3,832.5 586.6,833.3 590.0,832.5 C593.0,831.8 595.8,830.9 598.0,828.6 C601.0,825.5 602.5,819.4 604.4,814.0 C606.6,807.7 608.6,798.7 610.0,792.8 C611.0,788.6 611.5,785.6 612.2,781.9 C612.9,778.3 613.7,774.7 614.4,771.1 C615.1,767.4 615.3,763.6 616.6,760.2 C617.9,756.8 620.2,752.7 622.3,750.5 C623.8,748.9 625.6,747.0 627.2,747.2 C628.9,747.4 630.7,749.5 632.1,752.1 C634.7,756.9 635.1,769.7 637.0,776.5 C638.5,781.6 640.4,785.3 641.9,789.5 C643.3,793.4 644.7,796.6 645.9,801.0 C647.5,806.6 648.0,815.5 650.0,820.5 C651.4,823.9 652.2,827.1 654.9,828.6 C658.5,830.6 666.1,828.3 671.2,828.6 C675.8,828.9 680.8,831.9 684.2,830.3 C687.9,828.5 689.7,822.0 692.3,817.2 C695.3,811.6 699.3,803.8 701.0,798.5 C702.2,794.8 702.3,791.9 703.0,788.6 C703.6,785.3 704.3,782.1 704.9,778.8 C705.6,775.5 706.1,772.6 706.9,768.9 C707.9,764.2 708.7,756.8 710.8,753.0 C712.3,750.3 714.6,747.3 716.7,747.1 C718.6,746.9 721.1,748.8 722.7,751.0 C725.3,754.6 726.1,762.9 727.6,768.9 C729.1,774.8 729.9,781.3 731.6,786.6 C733.0,791.0 735.0,794.0 736.5,798.5 C738.4,804.2 739.5,812.9 741.5,818.3 C743.0,822.3 743.4,826.4 746.4,828.2 C750.2,830.5 758.9,828.1 764.2,828.2 C768.6,828.2 772.2,828.4 776.1,828.5 C780.1,828.6 784.1,828.6 788.1,828.7 C792.0,828.8 795.6,829.2 800.0,829.0 C805.3,828.7 812.0,826.6 817.7,826.8 C823.0,827.0 828.9,829.2 833.0,830.0 C835.7,830.5 837.7,832.3 839.8,831.2 C843.6,829.3 848.0,816.9 849.7,811.3 C850.8,807.5 850.4,804.7 850.8,801.3 C851.2,798.0 851.5,794.7 851.9,791.4 C852.3,788.1 852.6,784.8 853.0,781.5 C853.4,778.1 853.8,774.9 854.1,771.5 C854.4,767.9 854.7,764.1 855.0,760.5 C855.3,756.8 855.6,753.1 855.9,749.4 C856.2,745.7 856.5,742.1 856.8,738.4 C857.1,734.7 857.4,731.0 857.7,727.3 C858.0,723.7 858.2,719.8 858.6,716.3 C859.0,713.0 859.6,709.9 860.1,706.7 C860.6,703.5 861.0,700.4 861.5,697.2 C862.0,694.0 862.0,691.4 863.0,687.6 C864.6,681.7 869.0,665.8 871.8,665.5 C873.7,665.3 876.2,671.1 877.3,674.3 C878.4,677.5 878.0,681.3 878.4,684.8 C878.8,688.3 879.2,691.8 879.5,695.3 C879.9,698.8 880.3,702.3 880.7,705.8 C881.0,709.3 881.3,712.9 881.8,716.3 C882.3,719.6 883.0,722.7 883.6,725.9 C884.2,729.1 884.9,732.2 885.5,735.4 C886.1,738.6 886.6,741.8 887.3,745.0 C888.0,748.4 889.0,751.9 889.9,755.3 C890.7,758.8 891.6,762.2 892.4,765.7 C893.3,769.1 893.5,775.7 895.0,776.0 C896.3,776.3 899.2,771.8 900.6,769.3 C902.0,766.7 902.3,763.4 903.2,760.5 C904.0,757.5 904.9,754.6 905.7,751.6 C906.6,748.7 907.7,745.8 908.3,742.8 C908.9,739.7 909.1,736.5 909.5,733.4 C910.0,730.3 910.4,727.1 910.8,724.0 C911.2,720.9 911.6,717.7 912.0,714.6 C912.5,711.5 912.1,707.6 913.3,705.2 C914.3,703.3 916.2,700.6 917.7,700.8 C920.2,701.2 924.0,711.8 925.5,716.3 C926.6,719.6 926.5,722.2 927.0,725.1 C927.5,728.1 928.0,731.0 928.5,734.0 C929.0,736.9 929.5,739.9 930.0,742.8 C930.5,745.7 931.0,748.7 931.4,751.6 C931.9,754.6 932.4,757.5 932.9,760.5 C933.3,763.4 933.4,766.3 934.3,769.3 C935.3,772.6 936.8,779.0 938.7,779.3 C940.5,779.6 944.0,774.6 945.4,771.5 C946.9,768.3 946.6,764.1 947.2,760.5 C947.8,756.8 948.5,753.1 949.1,749.4 C949.7,745.8 950.4,742.0 950.9,738.4 C951.4,734.9 951.8,731.4 952.3,727.9 C952.7,724.4 953.2,720.9 953.6,717.4 C954.1,713.9 954.6,710.4 955.0,706.9 C955.5,703.4 955.5,699.6 956.4,696.4 C957.2,693.5 958.6,691.0 959.7,688.3 C960.8,685.6 962.0,682.9 963.1,680.2 C964.2,677.5 965.1,672.1 966.4,672.1 C968.0,672.0 970.8,679.4 971.9,683.1 C972.9,686.6 972.6,690.1 973.0,693.6 C973.4,697.1 973.7,700.6 974.1,704.1 C974.5,707.6 974.8,711.1 975.2,714.6 C975.6,718.1 975.6,720.9 976.3,725.1 C977.4,731.6 980.7,742.9 981.8,749.4 C982.6,753.8 982.7,756.8 983.2,760.5 C983.6,764.1 984.1,767.8 984.5,771.5 C985.0,775.2 985.5,778.9 985.9,782.5 C986.4,786.2 986.6,789.4 987.3,793.6 C988.3,799.3 989.3,807.7 991.8,813.5 C994.0,818.6 996.7,825.1 1000.6,826.8 C1004.2,828.4 1009.5,825.2 1013.9,824.6 C1018.3,824.1 1023.2,823.7 1027.1,823.5 C1030.3,823.3 1033.0,822.2 1035.8,823.2 C1039.1,824.3 1041.5,829.7 1045.0,831.0 C1048.3,832.3 1052.3,831.2 1056.0,831.3 C1059.7,831.4 1063.3,831.5 1067.0,831.6 C1070.7,831.7 1074.3,831.8 1078.0,831.9 C1081.7,832.0 1085.3,832.1 1089.0,832.2 C1092.7,832.3 1096.3,832.4 1100.0,832.5 C1103.7,832.6 1107.5,832.5 1111.3,832.6 C1115.1,832.6 1118.9,832.6 1122.6,832.6 C1126.4,832.7 1130.2,832.7 1133.9,832.7 C1137.7,832.7 1141.5,832.8 1145.3,832.8 C1149.0,832.8 1152.8,832.8 1156.6,832.9 C1160.3,832.9 1164.1,832.9 1167.9,832.9 C1171.7,833.0 1175.4,833.0 1179.2,833.0 L1179.2,833.0 L17.8,833.0 Z" fill="rgba(40,200,40,0.13)" stroke="none"/>
<path d="M216.7,832.0 C217.8,829.4 218.9,826.7 220.0,824.1 C221.1,821.5 222.2,818.8 223.3,816.2 C224.4,813.6 225.6,811.1 226.6,808.3 C227.6,805.4 228.4,802.2 229.2,799.1 C230.1,796.0 231.0,793.0 231.9,789.9 C232.7,786.8 233.6,784.5 234.5,780.7 C235.8,774.9 236.1,764.6 238.3,758.6 C239.9,754.0 242.3,747.7 244.8,747.2 C246.8,746.8 249.6,749.5 251.3,752.1 C253.9,756.0 254.6,763.8 256.2,770.0 C257.9,776.7 258.8,785.2 261.0,791.2 C262.8,796.0 265.2,803.1 267.6,803.4 C269.4,803.7 271.8,800.5 273.3,797.7 C275.7,793.1 275.9,783.7 277.3,776.5 C278.8,769.0 280.4,760.6 282.2,753.7 C283.7,747.8 285.4,743.0 287.1,737.4 C288.9,731.4 290.1,719.8 292.8,718.7 C294.2,718.1 296.4,719.5 297.7,721.2 C300.0,724.1 300.3,732.2 301.8,737.4 C303.3,742.4 305.1,746.5 306.6,752.1 C308.5,759.2 309.7,769.3 311.5,776.5 C313.0,782.3 314.5,791.8 316.4,792.0 C318.1,792.2 320.3,785.2 322.1,781.4 C324.1,777.3 326.7,772.4 327.8,768.4 C328.7,765.3 328.5,762.6 328.9,759.7 C329.2,756.8 329.6,753.9 329.9,751.0 C330.3,748.1 330.3,745.5 331.0,742.3 C332.0,738.0 333.6,730.6 336.0,727.7 C337.6,725.8 339.8,724.2 341.6,724.4 C343.6,724.6 345.9,727.2 347.3,729.3 C348.8,731.5 349.4,734.5 350.0,737.4 C350.7,740.6 350.7,744.3 351.1,747.7 C351.5,751.2 351.8,754.6 352.2,758.1 C352.6,761.5 352.6,764.6 353.3,768.4 C354.1,773.2 355.0,780.4 357.3,784.7 C359.1,788.2 362.7,793.0 364.7,792.8 C366.4,792.6 367.6,789.3 368.7,786.3 C370.7,781.1 371.5,770.8 372.8,763.5 C374.0,756.8 374.4,750.1 376.0,744.0 C377.5,738.3 379.7,732.7 381.7,727.7 C383.5,723.3 385.2,716.0 387.4,715.5 C388.9,715.2 390.9,717.3 392.3,719.5 C394.9,723.4 396.7,733.8 398.0,739.0 C398.8,742.5 399.1,744.8 399.6,747.7 C400.2,750.6 400.7,753.5 401.3,756.4 C401.8,759.3 402.2,761.6 402.9,765.1 C404.0,770.6 405.2,781.0 407.0,786.3 C408.2,789.7 409.3,794.2 411.0,794.4 C413.0,794.6 416.6,788.8 418.4,784.7 C420.9,779.2 421.2,770.8 422.5,763.5 C423.9,755.6 424.9,746.7 426.5,739.0 C427.9,732.1 429.2,723.4 431.4,719.5 C432.6,717.4 434.0,715.4 435.5,715.5 C437.5,715.6 440.3,719.5 442.0,722.8 C444.4,727.5 444.8,735.5 446.0,742.3 C447.3,749.6 447.5,758.0 449.3,765.1 C450.9,771.5 453.7,777.7 455.8,783.0 C457.5,787.3 459.0,794.3 460.7,794.4 C462.3,794.4 464.2,788.7 465.6,784.7 C467.6,778.8 468.0,768.6 469.9,761.9 C471.5,756.4 474.1,752.4 475.6,747.2 C477.2,741.6 477.2,734.5 478.8,729.3 C480.1,725.0 481.8,718.3 483.7,717.9 C485.2,717.6 487.1,720.4 488.6,722.8 C491.2,727.0 493.4,735.5 495.1,742.3 C496.9,749.5 497.7,757.5 499.2,765.1 C500.7,772.7 501.6,782.9 504.0,788.0 C505.4,791.0 507.3,794.3 509.0,794.4 C510.6,794.5 512.5,792.0 513.8,789.5 C516.4,784.7 517.6,771.4 518.7,765.1 C519.4,761.1 519.6,758.6 520.1,755.3 C520.6,752.1 521.1,748.8 521.5,745.5 C522.0,742.3 522.5,739.0 523.0,735.8 C523.5,732.5 523.0,729.1 524.4,726.0 C526.1,722.3 530.9,715.4 533.4,715.5 C535.4,715.6 537.3,720.1 538.3,722.8 C539.3,725.5 539.1,728.8 539.5,731.8 C539.9,734.7 540.3,737.7 540.8,740.7 C541.2,743.7 541.6,746.7 542.0,749.6 C542.4,752.6 542.3,755.5 543.2,758.6 C544.2,762.2 546.4,765.7 548.0,770.0 C549.9,775.3 551.9,783.6 553.7,788.0 C554.8,790.7 555.7,794.3 557.0,794.4 C558.6,794.5 561.1,789.6 562.7,786.3 C564.8,781.9 566.4,775.0 567.6,770.0 C568.6,765.9 569.0,762.4 569.7,758.6 C570.4,754.8 571.2,751.0 571.9,747.2 C572.6,743.4 572.8,739.6 574.0,735.8 C575.4,731.5 577.5,723.4 580.0,722.8 C581.9,722.3 584.7,725.3 586.5,727.7 C588.9,731.0 590.4,738.0 591.4,742.3 C592.2,745.5 592.3,748.1 592.8,751.0 C593.2,753.9 593.7,756.8 594.1,759.7 C594.6,762.6 595.0,765.5 595.5,768.4 C595.9,771.3 596.4,774.2 596.8,777.1 C597.3,780.0 597.7,782.8 598.2,785.7 C598.6,788.6 598.7,791.3 599.5,794.4 C600.5,798.4 602.2,803.4 604.4,807.5 C606.6,811.6 609.3,816.5 612.6,818.9 C615.4,821.0 619.4,820.9 622.3,822.1 C624.7,823.1 626.5,824.1 628.8,825.4 C631.4,826.8 634.2,829.8 637.0,830.3 C639.6,830.7 643.3,830.3 645.0,828.6 C646.8,826.8 646.5,822.5 647.2,819.4 C647.9,816.3 648.7,813.3 649.4,810.2 C650.1,807.1 650.7,804.7 651.6,801.0 C653.0,795.1 655.2,784.9 657.3,778.2 C659.0,772.7 661.2,768.6 663.0,763.5 C664.8,758.2 665.8,750.9 668.0,747.2 C669.4,744.9 671.0,742.2 672.8,742.3 C675.4,742.4 679.6,749.3 681.8,753.7 C684.1,758.4 684.8,765.2 685.8,770.0 C686.6,773.8 686.9,776.9 687.4,780.3 C688.0,783.8 688.5,787.2 689.1,790.7 C689.6,794.1 689.7,797.2 690.7,801.0 C692.0,805.9 694.5,812.8 697.2,817.2 C699.4,820.9 701.8,824.5 704.9,826.2 C707.7,827.7 711.5,827.0 714.8,827.5 C718.1,827.9 721.3,828.3 724.6,828.7 C727.9,829.2 731.1,829.7 734.5,830.0 C738.0,830.3 741.8,830.2 745.4,830.2 C749.1,830.3 752.7,830.4 756.3,830.5 C760.0,830.6 763.6,830.7 767.2,830.8 C770.9,830.8 774.5,830.9 778.2,831.0 C781.8,831.1 785.4,831.2 789.1,831.2 C792.7,831.3 796.3,831.5 800.0,831.5 C803.8,831.5 807.8,831.5 811.7,831.5 C815.6,831.5 819.4,831.5 823.3,831.5 C827.2,831.5 831.1,831.5 835.0,831.5 C838.9,831.5 842.8,831.5 846.7,831.5 C850.6,831.5 854.4,831.5 858.3,831.5 C862.2,831.5 866.1,831.5 870.0,831.5 C873.9,831.5 877.8,831.5 881.7,831.5 C885.6,831.5 889.4,831.5 893.3,831.5 C897.2,831.5 901.1,831.5 905.0,831.5 C908.9,831.5 912.8,831.5 916.7,831.5 C920.6,831.5 924.4,831.5 928.3,831.5 C932.2,831.5 936.1,831.5 940.0,831.5 C943.9,831.5 947.8,831.5 951.7,831.5 C955.6,831.5 959.4,831.5 963.3,831.5 C967.2,831.5 971.9,832.2 975.0,831.5 C977.3,831.0 979.4,830.6 980.7,829.0 C982.4,827.0 982.2,822.6 982.9,819.4 C983.6,816.2 984.4,813.1 985.1,809.9 C985.8,806.7 986.6,803.5 987.3,800.3 C988.0,797.1 988.5,793.9 989.2,790.7 C989.8,787.5 990.4,784.3 991.0,781.1 C991.7,777.9 992.2,774.6 992.9,771.5 C993.6,768.7 994.4,766.1 995.1,763.4 C995.8,760.7 996.6,758.0 997.3,755.3 C998.0,752.6 998.7,750.0 999.5,747.2 C1000.3,744.1 1001.2,740.8 1002.1,737.6 C1002.9,734.4 1003.8,731.3 1004.6,728.1 C1005.5,724.9 1005.7,718.7 1007.2,718.5 C1009.5,718.2 1016.3,732.6 1018.3,738.4 C1019.7,742.5 1019.4,745.8 1020.0,749.5 C1020.5,753.1 1021.1,756.8 1021.6,760.5 C1022.2,764.2 1022.7,767.9 1023.2,771.5 C1023.8,775.2 1024.2,779.0 1024.9,782.6 C1025.6,786.0 1026.5,789.2 1027.2,792.5 C1028.0,795.8 1028.8,799.2 1029.6,802.5 C1030.3,805.8 1030.4,809.0 1031.9,812.4 C1033.9,816.8 1037.9,823.9 1041.7,826.2 C1044.5,827.9 1047.9,827.1 1050.9,827.5 C1054.0,827.9 1057.1,828.4 1060.2,828.8 C1063.2,829.2 1066.3,830.0 1069.4,830.1 C1072.6,830.2 1076.0,829.7 1079.3,829.5 C1082.6,829.3 1085.8,829.0 1089.1,828.8 C1092.4,828.6 1095.2,828.0 1099.0,828.2 C1104.1,828.4 1112.0,831.2 1116.9,831.1 C1120.3,831.1 1123.1,831.1 1125.6,829.5 C1128.7,827.5 1131.5,822.3 1133.0,818.4 C1134.5,814.7 1134.2,810.5 1134.9,806.6 C1135.5,802.7 1136.1,798.7 1136.7,794.8 C1137.4,790.9 1138.0,786.9 1138.6,783.0 C1139.1,779.2 1139.5,775.6 1140.0,771.9 C1140.5,768.1 1140.9,764.4 1141.4,760.7 C1141.9,757.0 1142.3,753.3 1142.8,749.5 C1143.3,745.8 1143.2,742.5 1144.2,738.4 C1145.5,732.9 1148.5,725.4 1150.7,719.8 C1152.6,715.0 1154.1,707.2 1156.3,706.7 C1157.7,706.3 1159.8,708.8 1161.0,710.5 C1162.4,712.5 1162.6,715.9 1163.5,718.6 C1164.3,721.3 1165.1,723.9 1165.9,726.6 C1166.8,729.3 1167.8,731.9 1168.4,734.7 C1169.0,737.5 1169.2,740.5 1169.6,743.4 C1170.0,746.3 1170.5,749.1 1170.9,752.0 C1171.3,754.9 1171.6,757.1 1172.1,760.7 C1173.0,766.4 1175.0,777.3 1175.8,783.0 C1176.3,786.6 1176.6,788.8 1176.9,791.7 C1177.3,794.6 1177.7,797.4 1178.1,800.3 C1178.4,803.2 1178.8,806.1 1179.2,809.0 L1179.2,833.0 L216.7,833.0 Z" fill="rgba(60,90,220,0.11)" stroke="none"/>
<path d="M17.8,804.0 C20.4,809.7 22.2,817.3 25.7,821.0 C28.3,823.8 31.5,825.1 35.0,826.0 C38.8,827.0 43.3,825.4 47.7,826.0 C52.7,826.7 59.2,832.0 63.4,830.6 C67.5,829.2 70.7,822.2 72.8,818.0 C74.5,814.6 74.9,811.2 76.0,807.8 C77.0,804.3 78.0,800.9 79.1,797.5 C80.1,794.1 81.2,790.7 82.2,787.2 C83.3,783.8 83.8,780.8 85.4,777.0 C87.6,771.6 91.3,759.2 94.8,758.4 C97.2,757.9 100.4,761.5 102.6,764.7 C106.0,769.5 108.1,781.1 110.0,786.6 C111.2,789.9 112.0,791.9 113.0,794.5 C114.0,797.1 114.9,799.8 115.9,802.4 C116.9,805.0 117.7,810.2 118.9,810.3 C120.5,810.4 123.6,802.4 124.8,798.5 C125.8,795.0 125.6,791.6 126.0,788.1 C126.5,784.7 126.9,781.2 127.3,777.8 C127.7,774.3 128.1,770.8 128.6,767.4 C129.0,763.9 129.0,761.0 129.8,757.0 C131.0,751.4 134.4,742.6 135.7,737.2 C136.6,733.6 136.8,731.0 137.3,728.0 C137.9,724.9 138.4,721.8 139.0,718.7 C139.5,715.7 139.8,713.2 140.6,709.5 C141.9,703.6 144.1,687.2 146.6,686.8 C148.1,686.5 150.3,691.2 151.5,693.7 C152.7,696.3 153.0,699.4 153.8,702.3 C154.6,705.1 155.3,708.0 156.1,710.8 C156.9,713.7 157.8,716.4 158.4,719.4 C159.0,722.8 159.2,726.6 159.7,730.3 C160.1,733.9 160.5,737.5 160.9,741.1 C161.3,744.8 161.7,748.4 162.2,752.0 C162.6,755.6 162.8,759.5 163.4,762.9 C163.9,765.9 164.7,768.6 165.4,771.5 C166.0,774.3 166.7,777.2 167.3,780.0 C168.0,782.9 167.8,786.9 169.3,788.6 C170.4,789.9 172.8,791.3 174.2,790.6 C176.8,789.3 178.1,778.0 179.2,772.8 C180.0,768.9 180.1,765.9 180.6,762.5 C181.0,759.1 181.5,755.7 181.9,752.2 C182.4,748.8 182.8,745.4 183.3,742.0 C183.7,738.5 184.2,735.1 184.6,731.7 C185.1,728.3 185.1,724.9 186.0,721.4 C187.1,717.5 189.0,713.4 191.0,709.5 C193.0,705.5 195.8,697.7 198.0,697.7 C200.0,697.7 202.6,704.0 203.9,707.5 C205.1,710.8 205.0,714.5 205.5,718.1 C206.1,721.6 206.6,725.1 207.2,728.6 C207.7,732.2 207.9,735.2 208.8,739.2 C210.1,744.8 213.5,753.2 214.7,758.9 C215.6,763.2 215.7,766.5 216.2,770.3 C216.7,774.1 217.2,777.9 217.7,781.6 C218.2,785.4 218.7,789.2 219.2,793.0 C219.7,796.8 219.5,800.3 220.7,804.4 C222.2,809.8 225.1,818.0 228.6,822.2 C231.4,825.5 234.3,827.4 238.5,829.0 C244.1,831.2 253.9,831.6 260.0,832.0 C264.5,832.3 267.8,832.1 271.7,832.1 C275.6,832.1 279.4,832.1 283.3,832.2 C287.2,832.2 291.1,832.2 295.0,832.2 C298.9,832.3 302.8,832.3 306.7,832.3 C310.6,832.4 314.4,832.4 318.3,832.4 C322.2,832.4 326.1,832.5 330.0,832.5 C333.9,832.5 337.8,832.6 341.7,832.6 C345.6,832.6 349.4,832.6 353.3,832.7 C357.2,832.7 361.1,832.7 365.0,832.8 C368.9,832.8 372.8,832.8 376.7,832.8 C380.6,832.9 384.4,832.9 388.3,832.9 C392.2,832.9 396.1,833.0 400.0,833.0 C403.9,833.0 407.8,833.0 411.8,833.0 C415.7,833.0 419.6,833.0 423.5,833.0 C427.5,833.0 431.4,833.0 435.3,833.0 C439.2,833.0 443.1,833.0 447.1,833.0 C451.0,833.0 454.9,833.0 458.8,833.0 C462.7,833.0 466.7,833.0 470.6,833.0 C474.5,833.0 478.4,833.0 482.4,833.0 C486.3,833.0 490.2,833.0 494.1,833.0 C498.0,833.0 502.0,833.0 505.9,833.0 C509.8,833.0 513.7,833.0 517.6,833.0 C521.6,833.0 525.5,833.0 529.4,833.0 C533.3,833.0 537.3,833.0 541.2,833.0 C545.1,833.0 549.0,833.0 552.9,833.0 C556.9,833.0 560.8,833.0 564.7,833.0 C568.6,833.0 572.5,833.0 576.5,833.0 C580.4,833.0 584.3,833.0 588.2,833.0 C592.2,833.0 596.1,833.1 600.0,833.0 C603.9,832.9 607.9,832.8 611.9,832.6 C615.8,832.5 619.8,832.4 623.8,832.2 C627.7,832.1 631.7,832.0 635.6,831.9 C639.6,831.8 643.5,831.6 647.5,831.5 C651.5,831.4 655.4,831.2 659.4,831.1 C663.3,831.0 667.3,830.9 671.2,830.8 C675.2,830.6 679.2,830.5 683.1,830.4 C687.1,830.2 690.5,830.3 695.0,830.0 C700.8,829.6 708.1,828.2 714.8,828.2 C721.6,828.2 730.9,832.6 735.5,830.0 C739.5,827.8 740.9,820.5 742.4,816.3 C743.6,813.0 743.7,810.1 744.4,807.1 C745.1,804.0 745.7,800.9 746.4,797.8 C747.1,794.8 747.3,791.9 748.4,788.6 C749.7,784.4 752.1,779.4 754.3,774.8 C756.6,769.9 759.4,760.5 762.2,760.0 C764.1,759.6 766.5,762.4 768.2,765.0 C770.9,769.2 771.9,778.5 774.0,784.7 C775.9,790.3 778.0,795.6 780.0,800.5 C781.7,804.7 783.1,812.2 785.0,812.3 C787.0,812.4 790.0,805.2 791.9,800.5 C794.3,794.5 795.8,784.9 796.8,778.7 C797.5,774.2 797.5,770.8 797.8,766.8 C798.1,762.9 798.5,758.9 798.8,755.0 C799.1,751.0 799.5,747.1 799.8,743.1 C800.1,739.2 800.5,735.2 800.8,731.3 C801.1,727.3 801.2,723.8 801.8,719.4 C802.6,713.6 803.5,705.0 805.7,699.7 C807.4,695.5 810.1,689.6 812.5,689.5 C814.8,689.4 818.4,695.3 819.9,698.6 C821.2,701.6 820.9,705.0 821.4,708.2 C821.9,711.4 822.3,714.5 822.8,717.7 C823.3,720.9 823.8,724.0 824.3,727.3 C824.8,730.7 825.3,734.2 825.8,737.6 C826.3,741.1 826.7,744.5 827.2,748.0 C827.7,751.4 827.9,754.3 828.7,758.3 C829.9,763.9 833.1,772.9 834.3,778.2 C835.1,781.7 835.3,784.1 835.8,787.0 C836.3,790.0 836.7,792.9 837.2,795.9 C837.7,798.8 837.8,801.4 838.7,804.7 C839.9,809.2 841.2,816.3 844.2,820.2 C846.9,823.8 850.8,826.5 855.2,827.9 C860.2,829.5 866.8,827.3 873.0,827.9 C880.0,828.6 888.9,831.8 895.0,832.3 C899.3,832.7 902.5,832.1 906.2,832.0 C910.0,831.9 913.8,831.8 917.5,831.6 C921.2,831.5 925.0,831.4 928.8,831.3 C932.5,831.2 935.7,831.5 940.0,831.0 C945.9,830.3 954.0,826.7 960.8,826.8 C967.3,826.9 973.5,830.0 980.0,831.0 C986.6,832.0 994.3,832.7 1000.0,833.0 C1004.2,833.2 1007.4,833.0 1011.1,833.0 C1014.8,833.0 1018.5,833.1 1022.2,833.1 C1025.9,833.1 1029.6,833.1 1033.3,833.1 C1037.0,833.1 1040.7,833.1 1044.4,833.1 C1048.1,833.1 1051.9,833.2 1055.6,833.2 C1059.3,833.2 1063.0,833.2 1066.7,833.2 C1070.4,833.2 1074.1,833.2 1077.8,833.2 C1081.5,833.2 1085.2,833.3 1088.9,833.3 C1092.6,833.3 1096.3,833.3 1100.0,833.3 C1103.6,833.3 1107.1,833.3 1110.7,833.3 C1114.3,833.3 1117.9,833.3 1121.4,833.3 C1125.0,833.3 1128.6,833.3 1132.1,833.3 C1135.7,833.3 1139.3,833.3 1142.9,833.3 C1146.4,833.3 1150.0,833.3 1153.6,833.3 C1157.1,833.3 1160.7,833.3 1164.3,833.3 C1167.9,833.3 1172.5,835.2 1175.0,833.3 C1178.0,831.0 1177.8,823.4 1179.2,818.4 L1179.2,833.0 L17.8,833.0 Z" fill="rgba(0,0,0,0.13)" stroke="none"/>
<path d="M17.0,834.0 C20.7,833.9 24.4,833.9 28.1,833.8 C31.8,833.8 35.5,833.7 39.2,833.7 C42.9,833.6 46.6,833.6 50.2,833.5 C53.9,833.4 57.6,833.4 61.3,833.3 C65.0,833.3 68.7,833.2 72.4,833.2 C76.1,833.1 79.8,833.1 83.5,833.0 C87.2,832.9 90.9,832.9 94.6,832.8 C98.3,832.8 102.0,832.7 105.7,832.7 C109.4,832.6 113.1,832.6 116.8,832.5 C120.4,832.4 124.1,832.4 127.8,832.3 C131.5,832.3 135.2,832.2 138.9,832.2 C142.6,832.1 146.3,832.0 150.0,832.0 C153.8,832.0 157.7,831.9 161.5,831.9 C165.4,831.8 169.2,831.8 173.1,831.8 C176.9,831.7 180.8,831.7 184.6,831.7 C188.5,831.6 192.3,831.6 196.2,831.5 C200.0,831.5 203.8,831.5 207.7,831.4 C211.5,831.4 215.4,831.3 219.2,831.3 C223.1,831.3 226.9,831.2 230.8,831.2 C234.6,831.2 238.5,831.1 242.3,831.1 C246.2,831.0 250.0,831.0 253.8,831.0 C257.7,830.9 261.5,830.9 265.4,830.8 C269.2,830.8 273.1,830.8 276.9,830.7 C280.8,830.7 284.6,830.7 288.5,830.6 C292.3,830.6 296.2,830.5 300.0,830.5 C303.8,830.5 307.7,830.5 311.5,830.6 C315.4,830.6 319.2,830.6 323.1,830.6 C326.9,830.6 330.8,830.7 334.6,830.7 C338.5,830.7 342.3,830.7 346.2,830.7 C350.0,830.8 353.8,830.8 357.7,830.8 C361.5,830.8 365.4,830.8 369.2,830.8 C373.1,830.9 376.9,830.9 380.8,830.9 C384.6,830.9 388.5,830.9 392.3,831.0 C396.2,831.0 400.0,831.0 403.8,831.0 C407.7,831.0 411.5,831.1 415.4,831.1 C419.2,831.1 423.1,831.1 426.9,831.1 C430.8,831.2 434.6,831.2 438.5,831.2 C442.3,831.2 446.2,831.2 450.0,831.2 C453.8,831.3 457.7,831.3 461.5,831.3 C465.4,831.3 469.2,831.3 473.1,831.4 C476.9,831.4 480.8,831.4 484.6,831.4 C488.5,831.4 492.3,831.5 496.2,831.5 C500.0,831.5 503.8,831.5 507.7,831.5 C511.5,831.6 515.4,831.6 519.2,831.6 C523.1,831.6 526.9,831.6 530.8,831.7 C534.6,831.7 538.5,831.7 542.3,831.7 C546.2,831.7 550.0,831.7 553.8,831.8 C557.7,831.8 561.5,831.8 565.4,831.8 C569.2,831.8 573.1,831.9 576.9,831.9 C580.8,831.9 584.6,831.9 588.5,831.9 C592.3,832.0 596.1,832.0 600.0,832.0 C603.9,832.0 607.8,832.0 611.8,832.1 C615.7,832.1 619.6,832.1 623.5,832.1 C627.5,832.1 631.4,832.2 635.3,832.2 C639.2,832.2 643.1,832.2 647.1,832.2 C651.0,832.3 654.9,832.3 658.8,832.3 C662.7,832.3 666.7,832.3 670.6,832.4 C674.5,832.4 678.4,832.4 682.4,832.4 C686.3,832.4 690.2,832.5 694.1,832.5 C698.0,832.5 702.0,832.5 705.9,832.5 C709.8,832.5 713.7,832.6 717.6,832.6 C721.6,832.6 725.5,832.6 729.4,832.6 C733.3,832.7 737.3,832.7 741.2,832.7 C745.1,832.7 749.0,832.7 752.9,832.8 C756.9,832.8 760.8,832.8 764.7,832.8 C768.6,832.8 772.5,832.9 776.5,832.9 C780.4,832.9 784.3,832.9 788.2,832.9 C792.2,833.0 796.1,833.0 800.0,833.0 C803.9,833.0 807.8,832.9 811.8,832.9 C815.7,832.9 819.6,832.9 823.5,832.8 C827.5,832.8 831.4,832.8 835.3,832.7 C839.2,832.7 843.1,832.7 847.1,832.6 C851.0,832.6 854.9,832.6 858.8,832.6 C862.7,832.5 866.7,832.5 870.6,832.5 C874.5,832.4 878.4,832.4 882.4,832.4 C886.3,832.4 890.2,832.3 894.1,832.3 C898.0,832.3 902.0,832.2 905.9,832.2 C909.8,832.2 913.7,832.1 917.6,832.1 C921.6,832.1 925.5,832.1 929.4,832.0 C933.3,832.0 937.3,832.0 941.2,831.9 C945.1,831.9 949.0,831.9 952.9,831.9 C956.9,831.8 960.8,831.8 964.7,831.8 C968.6,831.7 972.5,831.7 976.5,831.7 C980.4,831.6 984.3,831.6 988.2,831.6 C992.2,831.6 997.0,832.5 1000.0,831.5 C1002.2,830.8 1003.1,828.2 1005.0,828.0 C1007.1,827.8 1009.3,830.3 1012.0,831.0 C1015.4,831.9 1020.9,834.0 1024.0,832.1 C1028.2,829.6 1029.4,819.0 1031.9,812.4 C1034.4,805.8 1037.5,798.1 1038.8,792.6 C1039.7,788.8 1039.6,786.0 1040.0,782.7 C1040.4,779.4 1040.8,776.1 1041.2,772.8 C1041.7,769.5 1042.1,766.2 1042.5,762.9 C1042.9,759.6 1043.2,756.3 1043.7,753.0 C1044.2,749.5 1044.8,746.0 1045.4,742.5 C1045.9,739.0 1046.5,735.4 1047.0,731.9 C1047.6,728.4 1047.4,725.3 1048.7,721.4 C1050.5,715.9 1055.9,702.5 1058.6,702.6 C1060.6,702.7 1062.5,709.9 1063.5,713.5 C1064.4,716.8 1064.3,720.1 1064.7,723.4 C1065.1,726.7 1065.5,730.0 1066.0,733.2 C1066.4,736.5 1066.8,739.8 1067.2,743.1 C1067.6,746.4 1067.7,749.0 1068.4,753.0 C1069.6,759.2 1072.0,769.1 1074.4,776.8 C1076.7,784.3 1079.8,798.6 1082.3,798.5 C1084.8,798.4 1087.1,784.1 1089.2,776.8 C1091.3,769.6 1093.9,760.9 1095.1,755.0 C1095.9,751.0 1096.0,748.1 1096.5,744.7 C1096.9,741.3 1097.4,737.9 1097.9,734.4 C1098.3,731.0 1098.8,727.6 1099.2,724.2 C1099.7,720.7 1100.2,717.3 1100.6,713.9 C1101.1,710.5 1100.5,706.2 1102.0,703.6 C1103.3,701.4 1106.1,698.5 1108.0,698.7 C1110.1,698.9 1112.6,702.9 1113.9,705.6 C1115.2,708.3 1115.0,711.8 1115.6,714.8 C1116.1,717.9 1116.7,721.0 1117.2,724.1 C1117.8,727.1 1118.4,730.0 1118.9,733.3 C1119.4,736.9 1119.7,741.0 1120.1,744.8 C1120.5,748.6 1120.9,752.5 1121.3,756.3 C1121.7,760.1 1122.1,764.0 1122.5,767.8 C1122.9,771.6 1123.0,775.8 1123.7,779.3 C1124.3,782.4 1125.4,785.1 1126.2,788.0 C1127.0,790.9 1127.9,793.7 1128.7,796.6 C1129.5,799.5 1130.2,801.8 1131.2,805.3 C1132.7,810.7 1133.8,822.3 1136.7,825.8 C1138.3,827.7 1140.1,828.1 1142.3,828.6 C1144.9,829.3 1148.5,828.8 1151.5,828.8 C1154.6,828.9 1157.7,829.0 1160.8,829.0 C1163.8,829.1 1166.9,829.2 1170.0,829.3 C1173.1,829.3 1176.1,829.4 1179.2,829.5 L1179.2,833.0 L17.0,833.0 Z" fill="rgba(250,40,40,0.11)" stroke="none"/>
<path d="M17.8,832.0 C20.4,824.2 24.3,814.9 25.7,808.6 C26.6,804.5 26.4,801.6 26.8,798.2 C27.1,794.7 27.5,791.2 27.8,787.7 C28.2,784.3 28.5,780.8 28.9,777.3 C29.2,773.8 29.5,770.3 29.9,766.9 C30.2,763.4 30.6,759.9 30.9,756.4 C31.3,753.0 31.6,749.5 32.0,746.0 C32.4,742.3 32.7,738.5 33.1,734.7 C33.5,731.0 33.9,727.2 34.2,723.4 C34.6,719.7 35.0,715.9 35.3,712.1 C35.7,708.4 36.1,704.6 36.5,700.9 C36.8,697.1 37.2,693.3 37.6,689.6 C37.9,685.8 38.3,682.0 38.7,678.3 C39.1,674.5 39.4,670.8 39.8,667.0 C40.2,663.2 40.8,659.4 41.4,655.7 C41.9,651.9 42.4,648.1 42.9,644.3 C43.5,640.6 44.0,636.7 44.5,633.0 C45.0,629.5 45.3,626.3 45.8,622.9 C46.2,619.6 46.6,616.2 47.0,612.8 C47.4,609.5 47.9,606.1 48.3,602.8 C48.7,599.4 49.1,596.0 49.5,592.7 C50.0,589.3 49.9,582.7 50.8,582.6 C51.8,582.5 54.3,591.0 55.5,595.0 C56.5,598.5 56.9,601.7 57.6,605.0 C58.3,608.3 59.0,611.7 59.7,615.0 C60.4,618.3 61.3,621.5 61.8,625.0 C62.3,628.7 62.4,632.7 62.7,636.6 C63.1,640.5 63.4,644.3 63.7,648.2 C64.0,652.1 64.3,655.9 64.6,659.8 C64.9,663.7 65.2,667.5 65.6,671.4 C65.9,675.3 66.2,679.2 66.5,683.0 C66.8,686.6 67.0,690.0 67.3,693.5 C67.5,697.0 67.8,700.5 68.1,704.0 C68.3,707.5 68.6,711.0 68.8,714.5 C69.1,718.0 69.4,721.5 69.6,725.0 C69.9,728.5 70.2,732.0 70.4,735.5 C70.7,739.0 70.9,742.5 71.2,746.0 C71.5,749.4 71.8,752.7 72.2,756.0 C72.5,759.3 72.8,762.7 73.1,766.0 C73.4,769.3 73.8,772.7 74.1,776.0 C74.4,779.3 74.7,782.7 75.0,786.0 C75.4,789.3 75.3,792.7 76.0,796.0 C76.7,799.5 78.1,803.0 79.1,806.5 C80.2,810.0 81.2,813.5 82.3,817.0 C83.3,820.5 83.3,826.8 85.4,827.5 C87.5,828.3 91.8,822.9 95.0,821.0 C98.0,819.2 100.9,817.7 104.0,816.5 C106.9,815.4 110.2,814.1 113.0,814.0 C115.5,813.9 117.6,814.5 120.0,815.5 C123.1,816.8 126.2,819.9 129.8,822.0 C133.9,824.4 139.3,827.5 143.6,829.0 C147.1,830.2 150.1,830.6 153.5,831.0 C157.1,831.4 161.0,831.1 164.8,831.1 C168.5,831.2 172.3,831.2 176.0,831.2 C179.8,831.3 183.6,831.3 187.3,831.3 C191.1,831.4 194.8,831.4 198.6,831.5 C202.3,831.5 206.1,831.5 209.8,831.6 C213.6,831.6 217.4,831.7 221.1,831.7 C224.9,831.7 228.6,831.8 232.4,831.8 C236.1,831.8 239.9,831.9 243.7,831.9 C247.4,832.0 251.2,832.0 254.9,832.0 C258.7,832.1 262.4,832.1 266.2,832.2 C269.9,832.2 273.7,832.2 277.5,832.3 C281.2,832.3 285.0,832.3 288.7,832.4 C292.5,832.4 296.2,832.5 300.0,832.5 C303.8,832.5 307.7,832.5 311.6,832.5 C315.5,832.5 319.3,832.5 323.2,832.5 C327.1,832.5 330.9,832.5 334.8,832.5 C338.7,832.5 342.5,832.5 346.4,832.5 C350.3,832.5 354.1,832.5 358.0,832.5 C361.9,832.5 365.7,832.5 369.6,832.5 C373.5,832.5 377.3,832.5 381.2,832.5 C385.1,832.5 388.9,832.5 392.8,832.5 C396.7,832.5 400.5,832.5 404.4,832.5 C408.3,832.5 412.1,832.5 416.0,832.5 C419.9,832.5 423.7,832.5 427.6,832.5 C431.5,832.5 435.3,832.5 439.2,832.5 C443.1,832.5 446.9,832.5 450.8,832.5 C454.7,832.5 458.5,832.5 462.4,832.5 C466.3,832.5 470.1,832.5 474.0,832.5 C477.9,832.5 481.7,832.5 485.6,832.5 C489.5,832.5 493.3,832.5 497.2,832.5 C501.1,832.5 504.9,832.5 508.8,832.5 C512.7,832.5 516.5,832.5 520.4,832.5 C524.3,832.5 528.1,832.5 532.0,832.5 C535.9,832.5 539.7,832.5 543.6,832.5 C547.5,832.5 551.3,832.5 555.2,832.5 C559.1,832.5 562.9,832.5 566.8,832.5 C570.7,832.5 574.5,832.5 578.4,832.5 C582.3,832.5 586.6,833.3 590.0,832.5 C593.0,831.8 595.8,830.9 598.0,828.6 C601.0,825.5 602.5,819.4 604.4,814.0 C606.6,807.7 608.6,798.7 610.0,792.8 C611.0,788.6 611.5,785.6 612.2,781.9 C612.9,778.3 613.7,774.7 614.4,771.1 C615.1,767.4 615.3,763.6 616.6,760.2 C617.9,756.8 620.2,752.7 622.3,750.5 C623.8,748.9 625.6,747.0 627.2,747.2 C628.9,747.4 630.7,749.5 632.1,752.1 C634.7,756.9 635.1,769.7 637.0,776.5 C638.5,781.6 640.4,785.3 641.9,789.5 C643.3,793.4 644.7,796.6 645.9,801.0 C647.5,806.6 648.0,815.5 650.0,820.5 C651.4,823.9 652.2,827.1 654.9,828.6 C658.5,830.6 666.1,828.3 671.2,828.6 C675.8,828.9 680.8,831.9 684.2,830.3 C687.9,828.5 689.7,822.0 692.3,817.2 C695.3,811.6 699.3,803.8 701.0,798.5 C702.2,794.8 702.3,791.9 703.0,788.6 C703.6,785.3 704.3,782.1 704.9,778.8 C705.6,775.5 706.1,772.6 706.9,768.9 C707.9,764.2 708.7,756.8 710.8,753.0 C712.3,750.3 714.6,747.3 716.7,747.1 C718.6,746.9 721.1,748.8 722.7,751.0 C725.3,754.6 726.1,762.9 727.6,768.9 C729.1,774.8 729.9,781.3 731.6,786.6 C733.0,791.0 735.0,794.0 736.5,798.5 C738.4,804.2 739.5,812.9 741.5,818.3 C743.0,822.3 743.4,826.4 746.4,828.2 C750.2,830.5 758.9,828.1 764.2,828.2 C768.6,828.2 772.2,828.4 776.1,828.5 C780.1,828.6 784.1,828.6 788.1,828.7 C792.0,828.8 795.6,829.2 800.0,829.0 C805.3,828.7 812.0,826.6 817.7,826.8 C823.0,827.0 828.9,829.2 833.0,830.0 C835.7,830.5 837.7,832.3 839.8,831.2 C843.6,829.3 848.0,816.9 849.7,811.3 C850.8,807.5 850.4,804.7 850.8,801.3 C851.2,798.0 851.5,794.7 851.9,791.4 C852.3,788.1 852.6,784.8 853.0,781.5 C853.4,778.1 853.8,774.9 854.1,771.5 C854.4,767.9 854.7,764.1 855.0,760.5 C855.3,756.8 855.6,753.1 855.9,749.4 C856.2,745.7 856.5,742.1 856.8,738.4 C857.1,734.7 857.4,731.0 857.7,727.3 C858.0,723.7 858.2,719.8 858.6,716.3 C859.0,713.0 859.6,709.9 860.1,706.7 C860.6,703.5 861.0,700.4 861.5,697.2 C862.0,694.0 862.0,691.4 863.0,687.6 C864.6,681.7 869.0,665.8 871.8,665.5 C873.7,665.3 876.2,671.1 877.3,674.3 C878.4,677.5 878.0,681.3 878.4,684.8 C878.8,688.3 879.2,691.8 879.5,695.3 C879.9,698.8 880.3,702.3 880.7,705.8 C881.0,709.3 881.3,712.9 881.8,716.3 C882.3,719.6 883.0,722.7 883.6,725.9 C884.2,729.1 884.9,732.2 885.5,735.4 C886.1,738.6 886.6,741.8 887.3,745.0 C888.0,748.4 889.0,751.9 889.9,755.3 C890.7,758.8 891.6,762.2 892.4,765.7 C893.3,769.1 893.5,775.7 895.0,776.0 C896.3,776.3 899.2,771.8 900.6,769.3 C902.0,766.7 902.3,763.4 903.2,760.5 C904.0,757.5 904.9,754.6 905.7,751.6 C906.6,748.7 907.7,745.8 908.3,742.8 C908.9,739.7 909.1,736.5 909.5,733.4 C910.0,730.3 910.4,727.1 910.8,724.0 C911.2,720.9 911.6,717.7 912.0,714.6 C912.5,711.5 912.1,707.6 913.3,705.2 C914.3,703.3 916.2,700.6 917.7,700.8 C920.2,701.2 924.0,711.8 925.5,716.3 C926.6,719.6 926.5,722.2 927.0,725.1 C927.5,728.1 928.0,731.0 928.5,734.0 C929.0,736.9 929.5,739.9 930.0,742.8 C930.5,745.7 931.0,748.7 931.4,751.6 C931.9,754.6 932.4,757.5 932.9,760.5 C933.3,763.4 933.4,766.3 934.3,769.3 C935.3,772.6 936.8,779.0 938.7,779.3 C940.5,779.6 944.0,774.6 945.4,771.5 C946.9,768.3 946.6,764.1 947.2,760.5 C947.8,756.8 948.5,753.1 949.1,749.4 C949.7,745.8 950.4,742.0 950.9,738.4 C951.4,734.9 951.8,731.4 952.3,727.9 C952.7,724.4 953.2,720.9 953.6,717.4 C954.1,713.9 954.6,710.4 955.0,706.9 C955.5,703.4 955.5,699.6 956.4,696.4 C957.2,693.5 958.6,691.0 959.7,688.3 C960.8,685.6 962.0,682.9 963.1,680.2 C964.2,677.5 965.1,672.1 966.4,672.1 C968.0,672.0 970.8,679.4 971.9,683.1 C972.9,686.6 972.6,690.1 973.0,693.6 C973.4,697.1 973.7,700.6 974.1,704.1 C974.5,707.6 974.8,711.1 975.2,714.6 C975.6,718.1 975.6,720.9 976.3,725.1 C977.4,731.6 980.7,742.9 981.8,749.4 C982.6,753.8 982.7,756.8 983.2,760.5 C983.6,764.1 984.1,767.8 984.5,771.5 C985.0,775.2 985.5,778.9 985.9,782.5 C986.4,786.2 986.6,789.4 987.3,793.6 C988.3,799.3 989.3,807.7 991.8,813.5 C994.0,818.6 996.7,825.1 1000.6,826.8 C1004.2,828.4 1009.5,825.2 1013.9,824.6 C1018.3,824.1 1023.2,823.7 1027.1,823.5 C1030.3,823.3 1033.0,822.2 1035.8,823.2 C1039.1,824.3 1041.5,829.7 1045.0,831.0 C1048.3,832.3 1052.3,831.2 1056.0,831.3 C1059.7,831.4 1063.3,831.5 1067.0,831.6 C1070.7,831.7 1074.3,831.8 1078.0,831.9 C1081.7,832.0 1085.3,832.1 1089.0,832.2 C1092.7,832.3 1096.3,832.4 1100.0,832.5 C1103.7,832.6 1107.5,832.5 1111.3,832.6 C1115.1,832.6 1118.9,832.6 1122.6,832.6 C1126.4,832.7 1130.2,832.7 1133.9,832.7 C1137.7,832.7 1141.5,832.8 1145.3,832.8 C1149.0,832.8 1152.8,832.8 1156.6,832.9 C1160.3,832.9 1164.1,832.9 1167.9,832.9 C1171.7,833.0 1175.4,833.0 1179.2,833.0" fill="none" stroke="#27cc27" stroke-width="4.1" stroke-linejoin="round" stroke-linecap="round"/>
<path d="M216.7,832.0 C217.8,829.4 218.9,826.7 220.0,824.1 C221.1,821.5 222.2,818.8 223.3,816.2 C224.4,813.6 225.6,811.1 226.6,808.3 C227.6,805.4 228.4,802.2 229.2,799.1 C230.1,796.0 231.0,793.0 231.9,789.9 C232.7,786.8 233.6,784.5 234.5,780.7 C235.8,774.9 236.1,764.6 238.3,758.6 C239.9,754.0 242.3,747.7 244.8,747.2 C246.8,746.8 249.6,749.5 251.3,752.1 C253.9,756.0 254.6,763.8 256.2,770.0 C257.9,776.7 258.8,785.2 261.0,791.2 C262.8,796.0 265.2,803.1 267.6,803.4 C269.4,803.7 271.8,800.5 273.3,797.7 C275.7,793.1 275.9,783.7 277.3,776.5 C278.8,769.0 280.4,760.6 282.2,753.7 C283.7,747.8 285.4,743.0 287.1,737.4 C288.9,731.4 290.1,719.8 292.8,718.7 C294.2,718.1 296.4,719.5 297.7,721.2 C300.0,724.1 300.3,732.2 301.8,737.4 C303.3,742.4 305.1,746.5 306.6,752.1 C308.5,759.2 309.7,769.3 311.5,776.5 C313.0,782.3 314.5,791.8 316.4,792.0 C318.1,792.2 320.3,785.2 322.1,781.4 C324.1,777.3 326.7,772.4 327.8,768.4 C328.7,765.3 328.5,762.6 328.9,759.7 C329.2,756.8 329.6,753.9 329.9,751.0 C330.3,748.1 330.3,745.5 331.0,742.3 C332.0,738.0 333.6,730.6 336.0,727.7 C337.6,725.8 339.8,724.2 341.6,724.4 C343.6,724.6 345.9,727.2 347.3,729.3 C348.8,731.5 349.4,734.5 350.0,737.4 C350.7,740.6 350.7,744.3 351.1,747.7 C351.5,751.2 351.8,754.6 352.2,758.1 C352.6,761.5 352.6,764.6 353.3,768.4 C354.1,773.2 355.0,780.4 357.3,784.7 C359.1,788.2 362.7,793.0 364.7,792.8 C366.4,792.6 367.6,789.3 368.7,786.3 C370.7,781.1 371.5,770.8 372.8,763.5 C374.0,756.8 374.4,750.1 376.0,744.0 C377.5,738.3 379.7,732.7 381.7,727.7 C383.5,723.3 385.2,716.0 387.4,715.5 C388.9,715.2 390.9,717.3 392.3,719.5 C394.9,723.4 396.7,733.8 398.0,739.0 C398.8,742.5 399.1,744.8 399.6,747.7 C400.2,750.6 400.7,753.5 401.3,756.4 C401.8,759.3 402.2,761.6 402.9,765.1 C404.0,770.6 405.2,781.0 407.0,786.3 C408.2,789.7 409.3,794.2 411.0,794.4 C413.0,794.6 416.6,788.8 418.4,784.7 C420.9,779.2 421.2,770.8 422.5,763.5 C423.9,755.6 424.9,746.7 426.5,739.0 C427.9,732.1 429.2,723.4 431.4,719.5 C432.6,717.4 434.0,715.4 435.5,715.5 C437.5,715.6 440.3,719.5 442.0,722.8 C444.4,727.5 444.8,735.5 446.0,742.3 C447.3,749.6 447.5,758.0 449.3,765.1 C450.9,771.5 453.7,777.7 455.8,783.0 C457.5,787.3 459.0,794.3 460.7,794.4 C462.3,794.4 464.2,788.7 465.6,784.7 C467.6,778.8 468.0,768.6 469.9,761.9 C471.5,756.4 474.1,752.4 475.6,747.2 C477.2,741.6 477.2,734.5 478.8,729.3 C480.1,725.0 481.8,718.3 483.7,717.9 C485.2,717.6 487.1,720.4 488.6,722.8 C491.2,727.0 493.4,735.5 495.1,742.3 C496.9,749.5 497.7,757.5 499.2,765.1 C500.7,772.7 501.6,782.9 504.0,788.0 C505.4,791.0 507.3,794.3 509.0,794.4 C510.6,794.5 512.5,792.0 513.8,789.5 C516.4,784.7 517.6,771.4 518.7,765.1 C519.4,761.1 519.6,758.6 520.1,755.3 C520.6,752.1 521.1,748.8 521.5,745.5 C522.0,742.3 522.5,739.0 523.0,735.8 C523.5,732.5 523.0,729.1 524.4,726.0 C526.1,722.3 530.9,715.4 533.4,715.5 C535.4,715.6 537.3,720.1 538.3,722.8 C539.3,725.5 539.1,728.8 539.5,731.8 C539.9,734.7 540.3,737.7 540.8,740.7 C541.2,743.7 541.6,746.7 542.0,749.6 C542.4,752.6 542.3,755.5 543.2,758.6 C544.2,762.2 546.4,765.7 548.0,770.0 C549.9,775.3 551.9,783.6 553.7,788.0 C554.8,790.7 555.7,794.3 557.0,794.4 C558.6,794.5 561.1,789.6 562.7,786.3 C564.8,781.9 566.4,775.0 567.6,770.0 C568.6,765.9 569.0,762.4 569.7,758.6 C570.4,754.8 571.2,751.0 571.9,747.2 C572.6,743.4 572.8,739.6 574.0,735.8 C575.4,731.5 577.5,723.4 580.0,722.8 C581.9,722.3 584.7,725.3 586.5,727.7 C588.9,731.0 590.4,738.0 591.4,742.3 C592.2,745.5 592.3,748.1 592.8,751.0 C593.2,753.9 593.7,756.8 594.1,759.7 C594.6,762.6 595.0,765.5 595.5,768.4 C595.9,771.3 596.4,774.2 596.8,777.1 C597.3,780.0 597.7,782.8 598.2,785.7 C598.6,788.6 598.7,791.3 599.5,794.4 C600.5,798.4 602.2,803.4 604.4,807.5 C606.6,811.6 609.3,816.5 612.6,818.9 C615.4,821.0 619.4,820.9 622.3,822.1 C624.7,823.1 626.5,824.1 628.8,825.4 C631.4,826.8 634.2,829.8 637.0,830.3 C639.6,830.7 643.3,830.3 645.0,828.6 C646.8,826.8 646.5,822.5 647.2,819.4 C647.9,816.3 648.7,813.3 649.4,810.2 C650.1,807.1 650.7,804.7 651.6,801.0 C653.0,795.1 655.2,784.9 657.3,778.2 C659.0,772.7 661.2,768.6 663.0,763.5 C664.8,758.2 665.8,750.9 668.0,747.2 C669.4,744.9 671.0,742.2 672.8,742.3 C675.4,742.4 679.6,749.3 681.8,753.7 C684.1,758.4 684.8,765.2 685.8,770.0 C686.6,773.8 686.9,776.9 687.4,780.3 C688.0,783.8 688.5,787.2 689.1,790.7 C689.6,794.1 689.7,797.2 690.7,801.0 C692.0,805.9 694.5,812.8 697.2,817.2 C699.4,820.9 701.8,824.5 704.9,826.2 C707.7,827.7 711.5,827.0 714.8,827.5 C718.1,827.9 721.3,828.3 724.6,828.7 C727.9,829.2 731.1,829.7 734.5,830.0 C738.0,830.3 741.8,830.2 745.4,830.2 C749.1,830.3 752.7,830.4 756.3,830.5 C760.0,830.6 763.6,830.7 767.2,830.8 C770.9,830.8 774.5,830.9 778.2,831.0 C781.8,831.1 785.4,831.2 789.1,831.2 C792.7,831.3 796.3,831.5 800.0,831.5 C803.8,831.5 807.8,831.5 811.7,831.5 C815.6,831.5 819.4,831.5 823.3,831.5 C827.2,831.5 831.1,831.5 835.0,831.5 C838.9,831.5 842.8,831.5 846.7,831.5 C850.6,831.5 854.4,831.5 858.3,831.5 C862.2,831.5 866.1,831.5 870.0,831.5 C873.9,831.5 877.8,831.5 881.7,831.5 C885.6,831.5 889.4,831.5 893.3,831.5 C897.2,831.5 901.1,831.5 905.0,831.5 C908.9,831.5 912.8,831.5 916.7,831.5 C920.6,831.5 924.4,831.5 928.3,831.5 C932.2,831.5 936.1,831.5 940.0,831.5 C943.9,831.5 947.8,831.5 951.7,831.5 C955.6,831.5 959.4,831.5 963.3,831.5 C967.2,831.5 971.9,832.2 975.0,831.5 C977.3,831.0 979.4,830.6 980.7,829.0 C982.4,827.0 982.2,822.6 982.9,819.4 C983.6,816.2 984.4,813.1 985.1,809.9 C985.8,806.7 986.6,803.5 987.3,800.3 C988.0,797.1 988.5,793.9 989.2,790.7 C989.8,787.5 990.4,784.3 991.0,781.1 C991.7,777.9 992.2,774.6 992.9,771.5 C993.6,768.7 994.4,766.1 995.1,763.4 C995.8,760.7 996.6,758.0 997.3,755.3 C998.0,752.6 998.7,750.0 999.5,747.2 C1000.3,744.1 1001.2,740.8 1002.1,737.6 C1002.9,734.4 1003.8,731.3 1004.6,728.1 C1005.5,724.9 1005.7,718.7 1007.2,718.5 C1009.5,718.2 1016.3,732.6 1018.3,738.4 C1019.7,742.5 1019.4,745.8 1020.0,749.5 C1020.5,753.1 1021.1,756.8 1021.6,760.5 C1022.2,764.2 1022.7,767.9 1023.2,771.5 C1023.8,775.2 1024.2,779.0 1024.9,782.6 C1025.6,786.0 1026.5,789.2 1027.2,792.5 C1028.0,795.8 1028.8,799.2 1029.6,802.5 C1030.3,805.8 1030.4,809.0 1031.9,812.4 C1033.9,816.8 1037.9,823.9 1041.7,826.2 C1044.5,827.9 1047.9,827.1 1050.9,827.5 C1054.0,827.9 1057.1,828.4 1060.2,828.8 C1063.2,829.2 1066.3,830.0 1069.4,830.1 C1072.6,830.2 1076.0,829.7 1079.3,829.5 C1082.6,829.3 1085.8,829.0 1089.1,828.8 C1092.4,828.6 1095.2,828.0 1099.0,828.2 C1104.1,828.4 1112.0,831.2 1116.9,831.1 C1120.3,831.1 1123.1,831.1 1125.6,829.5 C1128.7,827.5 1131.5,822.3 1133.0,818.4 C1134.5,814.7 1134.2,810.5 1134.9,806.6 C1135.5,802.7 1136.1,798.7 1136.7,794.8 C1137.4,790.9 1138.0,786.9 1138.6,783.0 C1139.1,779.2 1139.5,775.6 1140.0,771.9 C1140.5,768.1 1140.9,764.4 1141.4,760.7 C1141.9,757.0 1142.3,753.3 1142.8,749.5 C1143.3,745.8 1143.2,742.5 1144.2,738.4 C1145.5,732.9 1148.5,725.4 1150.7,719.8 C1152.6,715.0 1154.1,707.2 1156.3,706.7 C1157.7,706.3 1159.8,708.8 1161.0,710.5 C1162.4,712.5 1162.6,715.9 1163.5,718.6 C1164.3,721.3 1165.1,723.9 1165.9,726.6 C1166.8,729.3 1167.8,731.9 1168.4,734.7 C1169.0,737.5 1169.2,740.5 1169.6,743.4 C1170.0,746.3 1170.5,749.1 1170.9,752.0 C1171.3,754.9 1171.6,757.1 1172.1,760.7 C1173.0,766.4 1175.0,777.3 1175.8,783.0 C1176.3,786.6 1176.6,788.8 1176.9,791.7 C1177.3,794.6 1177.7,797.4 1178.1,800.3 C1178.4,803.2 1178.8,806.1 1179.2,809.0" fill="none" stroke="#3a62de" stroke-width="4.1" stroke-linejoin="round" stroke-linecap="round"/>
<path d="M17.8,804.0 C20.4,809.7 22.2,817.3 25.7,821.0 C28.3,823.8 31.5,825.1 35.0,826.0 C38.8,827.0 43.3,825.4 47.7,826.0 C52.7,826.7 59.2,832.0 63.4,830.6 C67.5,829.2 70.7,822.2 72.8,818.0 C74.5,814.6 74.9,811.2 76.0,807.8 C77.0,804.3 78.0,800.9 79.1,797.5 C80.1,794.1 81.2,790.7 82.2,787.2 C83.3,783.8 83.8,780.8 85.4,777.0 C87.6,771.6 91.3,759.2 94.8,758.4 C97.2,757.9 100.4,761.5 102.6,764.7 C106.0,769.5 108.1,781.1 110.0,786.6 C111.2,789.9 112.0,791.9 113.0,794.5 C114.0,797.1 114.9,799.8 115.9,802.4 C116.9,805.0 117.7,810.2 118.9,810.3 C120.5,810.4 123.6,802.4 124.8,798.5 C125.8,795.0 125.6,791.6 126.0,788.1 C126.5,784.7 126.9,781.2 127.3,777.8 C127.7,774.3 128.1,770.8 128.6,767.4 C129.0,763.9 129.0,761.0 129.8,757.0 C131.0,751.4 134.4,742.6 135.7,737.2 C136.6,733.6 136.8,731.0 137.3,728.0 C137.9,724.9 138.4,721.8 139.0,718.7 C139.5,715.7 139.8,713.2 140.6,709.5 C141.9,703.6 144.1,687.2 146.6,686.8 C148.1,686.5 150.3,691.2 151.5,693.7 C152.7,696.3 153.0,699.4 153.8,702.3 C154.6,705.1 155.3,708.0 156.1,710.8 C156.9,713.7 157.8,716.4 158.4,719.4 C159.0,722.8 159.2,726.6 159.7,730.3 C160.1,733.9 160.5,737.5 160.9,741.1 C161.3,744.8 161.7,748.4 162.2,752.0 C162.6,755.6 162.8,759.5 163.4,762.9 C163.9,765.9 164.7,768.6 165.4,771.5 C166.0,774.3 166.7,777.2 167.3,780.0 C168.0,782.9 167.8,786.9 169.3,788.6 C170.4,789.9 172.8,791.3 174.2,790.6 C176.8,789.3 178.1,778.0 179.2,772.8 C180.0,768.9 180.1,765.9 180.6,762.5 C181.0,759.1 181.5,755.7 181.9,752.2 C182.4,748.8 182.8,745.4 183.3,742.0 C183.7,738.5 184.2,735.1 184.6,731.7 C185.1,728.3 185.1,724.9 186.0,721.4 C187.1,717.5 189.0,713.4 191.0,709.5 C193.0,705.5 195.8,697.7 198.0,697.7 C200.0,697.7 202.6,704.0 203.9,707.5 C205.1,710.8 205.0,714.5 205.5,718.1 C206.1,721.6 206.6,725.1 207.2,728.6 C207.7,732.2 207.9,735.2 208.8,739.2 C210.1,744.8 213.5,753.2 214.7,758.9 C215.6,763.2 215.7,766.5 216.2,770.3 C216.7,774.1 217.2,777.9 217.7,781.6 C218.2,785.4 218.7,789.2 219.2,793.0 C219.7,796.8 219.5,800.3 220.7,804.4 C222.2,809.8 225.1,818.0 228.6,822.2 C231.4,825.5 234.3,827.4 238.5,829.0 C244.1,831.2 253.9,831.6 260.0,832.0 C264.5,832.3 267.8,832.1 271.7,832.1 C275.6,832.1 279.4,832.1 283.3,832.2 C287.2,832.2 291.1,832.2 295.0,832.2 C298.9,832.3 302.8,832.3 306.7,832.3 C310.6,832.4 314.4,832.4 318.3,832.4 C322.2,832.4 326.1,832.5 330.0,832.5 C333.9,832.5 337.8,832.6 341.7,832.6 C345.6,832.6 349.4,832.6 353.3,832.7 C357.2,832.7 361.1,832.7 365.0,832.8 C368.9,832.8 372.8,832.8 376.7,832.8 C380.6,832.9 384.4,832.9 388.3,832.9 C392.2,832.9 396.1,833.0 400.0,833.0 C403.9,833.0 407.8,833.0 411.8,833.0 C415.7,833.0 419.6,833.0 423.5,833.0 C427.5,833.0 431.4,833.0 435.3,833.0 C439.2,833.0 443.1,833.0 447.1,833.0 C451.0,833.0 454.9,833.0 458.8,833.0 C462.7,833.0 466.7,833.0 470.6,833.0 C474.5,833.0 478.4,833.0 482.4,833.0 C486.3,833.0 490.2,833.0 494.1,833.0 C498.0,833.0 502.0,833.0 505.9,833.0 C509.8,833.0 513.7,833.0 517.6,833.0 C521.6,833.0 525.5,833.0 529.4,833.0 C533.3,833.0 537.3,833.0 541.2,833.0 C545.1,833.0 549.0,833.0 552.9,833.0 C556.9,833.0 560.8,833.0 564.7,833.0 C568.6,833.0 572.5,833.0 576.5,833.0 C580.4,833.0 584.3,833.0 588.2,833.0 C592.2,833.0 596.1,833.1 600.0,833.0 C603.9,832.9 607.9,832.8 611.9,832.6 C615.8,832.5 619.8,832.4 623.8,832.2 C627.7,832.1 631.7,832.0 635.6,831.9 C639.6,831.8 643.5,831.6 647.5,831.5 C651.5,831.4 655.4,831.2 659.4,831.1 C663.3,831.0 667.3,830.9 671.2,830.8 C675.2,830.6 679.2,830.5 683.1,830.4 C687.1,830.2 690.5,830.3 695.0,830.0 C700.8,829.6 708.1,828.2 714.8,828.2 C721.6,828.2 730.9,832.6 735.5,830.0 C739.5,827.8 740.9,820.5 742.4,816.3 C743.6,813.0 743.7,810.1 744.4,807.1 C745.1,804.0 745.7,800.9 746.4,797.8 C747.1,794.8 747.3,791.9 748.4,788.6 C749.7,784.4 752.1,779.4 754.3,774.8 C756.6,769.9 759.4,760.5 762.2,760.0 C764.1,759.6 766.5,762.4 768.2,765.0 C770.9,769.2 771.9,778.5 774.0,784.7 C775.9,790.3 778.0,795.6 780.0,800.5 C781.7,804.7 783.1,812.2 785.0,812.3 C787.0,812.4 790.0,805.2 791.9,800.5 C794.3,794.5 795.8,784.9 796.8,778.7 C797.5,774.2 797.5,770.8 797.8,766.8 C798.1,762.9 798.5,758.9 798.8,755.0 C799.1,751.0 799.5,747.1 799.8,743.1 C800.1,739.2 800.5,735.2 800.8,731.3 C801.1,727.3 801.2,723.8 801.8,719.4 C802.6,713.6 803.5,705.0 805.7,699.7 C807.4,695.5 810.1,689.6 812.5,689.5 C814.8,689.4 818.4,695.3 819.9,698.6 C821.2,701.6 820.9,705.0 821.4,708.2 C821.9,711.4 822.3,714.5 822.8,717.7 C823.3,720.9 823.8,724.0 824.3,727.3 C824.8,730.7 825.3,734.2 825.8,737.6 C826.3,741.1 826.7,744.5 827.2,748.0 C827.7,751.4 827.9,754.3 828.7,758.3 C829.9,763.9 833.1,772.9 834.3,778.2 C835.1,781.7 835.3,784.1 835.8,787.0 C836.3,790.0 836.7,792.9 837.2,795.9 C837.7,798.8 837.8,801.4 838.7,804.7 C839.9,809.2 841.2,816.3 844.2,820.2 C846.9,823.8 850.8,826.5 855.2,827.9 C860.2,829.5 866.8,827.3 873.0,827.9 C880.0,828.6 888.9,831.8 895.0,832.3 C899.3,832.7 902.5,832.1 906.2,832.0 C910.0,831.9 913.8,831.8 917.5,831.6 C921.2,831.5 925.0,831.4 928.8,831.3 C932.5,831.2 935.7,831.5 940.0,831.0 C945.9,830.3 954.0,826.7 960.8,826.8 C967.3,826.9 973.5,830.0 980.0,831.0 C986.6,832.0 994.3,832.7 1000.0,833.0 C1004.2,833.2 1007.4,833.0 1011.1,833.0 C1014.8,833.0 1018.5,833.1 1022.2,833.1 C1025.9,833.1 1029.6,833.1 1033.3,833.1 C1037.0,833.1 1040.7,833.1 1044.4,833.1 C1048.1,833.1 1051.9,833.2 1055.6,833.2 C1059.3,833.2 1063.0,833.2 1066.7,833.2 C1070.4,833.2 1074.1,833.2 1077.8,833.2 C1081.5,833.2 1085.2,833.3 1088.9,833.3 C1092.6,833.3 1096.3,833.3 1100.0,833.3 C1103.6,833.3 1107.1,833.3 1110.7,833.3 C1114.3,833.3 1117.9,833.3 1121.4,833.3 C1125.0,833.3 1128.6,833.3 1132.1,833.3 C1135.7,833.3 1139.3,833.3 1142.9,833.3 C1146.4,833.3 1150.0,833.3 1153.6,833.3 C1157.1,833.3 1160.7,833.3 1164.3,833.3 C1167.9,833.3 1172.5,835.2 1175.0,833.3 C1178.0,831.0 1177.8,823.4 1179.2,818.4" fill="none" stroke="#111111" stroke-width="4.1" stroke-linejoin="round" stroke-linecap="round"/>
<path d="M17.0,834.0 C20.7,833.9 24.4,833.9 28.1,833.8 C31.8,833.8 35.5,833.7 39.2,833.7 C42.9,833.6 46.6,833.6 50.2,833.5 C53.9,833.4 57.6,833.4 61.3,833.3 C65.0,833.3 68.7,833.2 72.4,833.2 C76.1,833.1 79.8,833.1 83.5,833.0 C87.2,832.9 90.9,832.9 94.6,832.8 C98.3,832.8 102.0,832.7 105.7,832.7 C109.4,832.6 113.1,832.6 116.8,832.5 C120.4,832.4 124.1,832.4 127.8,832.3 C131.5,832.3 135.2,832.2 138.9,832.2 C142.6,832.1 146.3,832.0 150.0,832.0 C153.8,832.0 157.7,831.9 161.5,831.9 C165.4,831.8 169.2,831.8 173.1,831.8 C176.9,831.7 180.8,831.7 184.6,831.7 C188.5,831.6 192.3,831.6 196.2,831.5 C200.0,831.5 203.8,831.5 207.7,831.4 C211.5,831.4 215.4,831.3 219.2,831.3 C223.1,831.3 226.9,831.2 230.8,831.2 C234.6,831.2 238.5,831.1 242.3,831.1 C246.2,831.0 250.0,831.0 253.8,831.0 C257.7,830.9 261.5,830.9 265.4,830.8 C269.2,830.8 273.1,830.8 276.9,830.7 C280.8,830.7 284.6,830.7 288.5,830.6 C292.3,830.6 296.2,830.5 300.0,830.5 C303.8,830.5 307.7,830.5 311.5,830.6 C315.4,830.6 319.2,830.6 323.1,830.6 C326.9,830.6 330.8,830.7 334.6,830.7 C338.5,830.7 342.3,830.7 346.2,830.7 C350.0,830.8 353.8,830.8 357.7,830.8 C361.5,830.8 365.4,830.8 369.2,830.8 C373.1,830.9 376.9,830.9 380.8,830.9 C384.6,830.9 388.5,830.9 392.3,831.0 C396.2,831.0 400.0,831.0 403.8,831.0 C407.7,831.0 411.5,831.1 415.4,831.1 C419.2,831.1 423.1,831.1 426.9,831.1 C430.8,831.2 434.6,831.2 438.5,831.2 C442.3,831.2 446.2,831.2 450.0,831.2 C453.8,831.3 457.7,831.3 461.5,831.3 C465.4,831.3 469.2,831.3 473.1,831.4 C476.9,831.4 480.8,831.4 484.6,831.4 C488.5,831.4 492.3,831.5 496.2,831.5 C500.0,831.5 503.8,831.5 507.7,831.5 C511.5,831.6 515.4,831.6 519.2,831.6 C523.1,831.6 526.9,831.6 530.8,831.7 C534.6,831.7 538.5,831.7 542.3,831.7 C546.2,831.7 550.0,831.7 553.8,831.8 C557.7,831.8 561.5,831.8 565.4,831.8 C569.2,831.8 573.1,831.9 576.9,831.9 C580.8,831.9 584.6,831.9 588.5,831.9 C592.3,832.0 596.1,832.0 600.0,832.0 C603.9,832.0 607.8,832.0 611.8,832.1 C615.7,832.1 619.6,832.1 623.5,832.1 C627.5,832.1 631.4,832.2 635.3,832.2 C639.2,832.2 643.1,832.2 647.1,832.2 C651.0,832.3 654.9,832.3 658.8,832.3 C662.7,832.3 666.7,832.3 670.6,832.4 C674.5,832.4 678.4,832.4 682.4,832.4 C686.3,832.4 690.2,832.5 694.1,832.5 C698.0,832.5 702.0,832.5 705.9,832.5 C709.8,832.5 713.7,832.6 717.6,832.6 C721.6,832.6 725.5,832.6 729.4,832.6 C733.3,832.7 737.3,832.7 741.2,832.7 C745.1,832.7 749.0,832.7 752.9,832.8 C756.9,832.8 760.8,832.8 764.7,832.8 C768.6,832.8 772.5,832.9 776.5,832.9 C780.4,832.9 784.3,832.9 788.2,832.9 C792.2,833.0 796.1,833.0 800.0,833.0 C803.9,833.0 807.8,832.9 811.8,832.9 C815.7,832.9 819.6,832.9 823.5,832.8 C827.5,832.8 831.4,832.8 835.3,832.7 C839.2,832.7 843.1,832.7 847.1,832.6 C851.0,832.6 854.9,832.6 858.8,832.6 C862.7,832.5 866.7,832.5 870.6,832.5 C874.5,832.4 878.4,832.4 882.4,832.4 C886.3,832.4 890.2,832.3 894.1,832.3 C898.0,832.3 902.0,832.2 905.9,832.2 C909.8,832.2 913.7,832.1 917.6,832.1 C921.6,832.1 925.5,832.1 929.4,832.0 C933.3,832.0 937.3,832.0 941.2,831.9 C945.1,831.9 949.0,831.9 952.9,831.9 C956.9,831.8 960.8,831.8 964.7,831.8 C968.6,831.7 972.5,831.7 976.5,831.7 C980.4,831.6 984.3,831.6 988.2,831.6 C992.2,831.6 997.0,832.5 1000.0,831.5 C1002.2,830.8 1003.1,828.2 1005.0,828.0 C1007.1,827.8 1009.3,830.3 1012.0,831.0 C1015.4,831.9 1020.9,834.0 1024.0,832.1 C1028.2,829.6 1029.4,819.0 1031.9,812.4 C1034.4,805.8 1037.5,798.1 1038.8,792.6 C1039.7,788.8 1039.6,786.0 1040.0,782.7 C1040.4,779.4 1040.8,776.1 1041.2,772.8 C1041.7,769.5 1042.1,766.2 1042.5,762.9 C1042.9,759.6 1043.2,756.3 1043.7,753.0 C1044.2,749.5 1044.8,746.0 1045.4,742.5 C1045.9,739.0 1046.5,735.4 1047.0,731.9 C1047.6,728.4 1047.4,725.3 1048.7,721.4 C1050.5,715.9 1055.9,702.5 1058.6,702.6 C1060.6,702.7 1062.5,709.9 1063.5,713.5 C1064.4,716.8 1064.3,720.1 1064.7,723.4 C1065.1,726.7 1065.5,730.0 1066.0,733.2 C1066.4,736.5 1066.8,739.8 1067.2,743.1 C1067.6,746.4 1067.7,749.0 1068.4,753.0 C1069.6,759.2 1072.0,769.1 1074.4,776.8 C1076.7,784.3 1079.8,798.6 1082.3,798.5 C1084.8,798.4 1087.1,784.1 1089.2,776.8 C1091.3,769.6 1093.9,760.9 1095.1,755.0 C1095.9,751.0 1096.0,748.1 1096.5,744.7 C1096.9,741.3 1097.4,737.9 1097.9,734.4 C1098.3,731.0 1098.8,727.6 1099.2,724.2 C1099.7,720.7 1100.2,717.3 1100.6,713.9 C1101.1,710.5 1100.5,706.2 1102.0,703.6 C1103.3,701.4 1106.1,698.5 1108.0,698.7 C1110.1,698.9 1112.6,702.9 1113.9,705.6 C1115.2,708.3 1115.0,711.8 1115.6,714.8 C1116.1,717.9 1116.7,721.0 1117.2,724.1 C1117.8,727.1 1118.4,730.0 1118.9,733.3 C1119.4,736.9 1119.7,741.0 1120.1,744.8 C1120.5,748.6 1120.9,752.5 1121.3,756.3 C1121.7,760.1 1122.1,764.0 1122.5,767.8 C1122.9,771.6 1123.0,775.8 1123.7,779.3 C1124.3,782.4 1125.4,785.1 1126.2,788.0 C1127.0,790.9 1127.9,793.7 1128.7,796.6 C1129.5,799.5 1130.2,801.8 1131.2,805.3 C1132.7,810.7 1133.8,822.3 1136.7,825.8 C1138.3,827.7 1140.1,828.1 1142.3,828.6 C1144.9,829.3 1148.5,828.8 1151.5,828.8 C1154.6,828.9 1157.7,829.0 1160.8,829.0 C1163.8,829.1 1166.9,829.2 1170.0,829.3 C1173.1,829.3 1176.1,829.4 1179.2,829.5" fill="none" stroke="#fb3434" stroke-width="4.1" stroke-linejoin="round" stroke-linecap="round"/>

<rect x="17" y="835" width="1162.5" height="4" fill="#d0d0d0"/>

</svg>
<div class="t" style="left:415px"><i>MYH11</i></div><div class="t" style="left:524px">:</div><div class="t" id="t2" style="left:546px">c.5819delC</div>
<div class="b A" style="left:19.2px;top:112px;color:#2ed22e">A</div>
<div class="b G" style="left:66.5px;top:112px;color:#161616">G</div>
<div class="b G" style="left:120.6px;top:112px;color:#161616">G</div>
<div class="b G" style="left:167.4px;top:112px;color:#161616">G</div>
<div class="b C" style="left:218.3px;top:112px;color:#4a70ee">C</div>
<div class="b C" style="left:265.3px;top:112px;color:#4a70ee">C</div>
<div class="b C" style="left:316.4px;top:112px;color:#4a70ee">C</div>
<div class="b C" style="left:360.0px;top:112px;color:#4a70ee">C</div>
<div class="b C" style="left:410.4px;top:112px;color:#4a70ee">C</div>
<div class="b C" style="left:460.9px;top:112px;color:#4a70ee">C</div>
<div class="b C" style="left:508.4px;top:112px;color:#4a70ee">C</div>
<div class="b C" style="left:555.7px;top:112px;color:#4a70ee">C</div>
<div class="b C" style="left:602.7px;top:112px;color:#4a70ee">C</div>
<div class="b C" style="left:653.2px;top:112px;color:#4a70ee">C</div>
<div class="b G" style="left:694.3px;top:112px;color:#161616">G</div>
<div class="b G" style="left:744.3px;top:112px;color:#161616">G</div>
<div class="b A" style="left:808.2px;top:112px;color:#2ed22e">A</div>
<div class="b A" style="left:852.5px;top:112px;color:#2ed22e">A</div>
<div class="b A" style="left:903.2px;top:112px;color:#2ed22e">A</div>
<div class="b A" style="left:950.0px;top:112px;color:#2ed22e">A</div>
<div class="b T" style="left:989.9px;top:112px;color:#fb3a3a">T</div>
<div class="b T" style="left:1044.0px;top:112px;color:#fb3a3a">T</div>
<div class="b C" style="left:1095.2px;top:112px;color:#4a70ee">C</div>
<div class="b C" style="left:1142.0px;top:112px;color:#4a70ee">C</div>
<div class="b A" style="left:25.8px;top:511px;color:#2ed22e">A</div>
<div class="b G" style="left:69.4px;top:511px;color:#161616">G</div>
<div class="b G" style="left:122.3px;top:511px;color:#161616">G</div>
<div class="b G" style="left:175.2px;top:511px;color:#161616">G</div>
<div class="b C" style="left:221.5px;top:511px;color:#4a70ee">C</div>
<div class="b C" style="left:268.3px;top:511px;color:#4a70ee">C</div>
<div class="b C" style="left:315.0px;top:511px;color:#4a70ee">C</div>
<div class="b C" style="left:364.2px;top:511px;color:#4a70ee">C</div>
<div class="b C" style="left:410.4px;top:511px;color:#4a70ee">C</div>
<div class="b C" style="left:460.2px;top:511px;color:#4a70ee">C</div>
<div class="b C" style="left:506.4px;top:511px;color:#4a70ee">C</div>
<div class="b C" style="left:556.2px;top:511px;color:#4a70ee">C</div>
<div class="b A" style="left:605.7px;top:511px;color:#2ed22e">A</div>
<div class="b C" style="left:648.8px;top:511px;color:#4a70ee">C</div>
<div class="b A" style="left:691.8px;top:511px;color:#2ed22e">A</div>
<div class="b G" style="left:738.1px;top:511px;color:#161616">G</div>
<div class="b G" style="left:791.5px;top:511px;color:#161616">G</div>
<div class="b A" style="left:847.6px;top:511px;color:#2ed22e">A</div>
<div class="b A" style="left:893.9px;top:511px;color:#2ed22e">A</div>
<div class="b A" style="left:943.8px;top:511px;color:#2ed22e">A</div>
<div class="b C" style="left:986.9px;top:511px;color:#4a70ee">C</div>
<div class="b T" style="left:1032.4px;top:511px;color:#fb3a3a">T</div>
<div class="b T" style="left:1082.2px;top:511px;color:#fb3a3a">T</div>
<div class="b C" style="left:1132.1px;top:511px;color:#4a70ee">C</div>

</body></html>
